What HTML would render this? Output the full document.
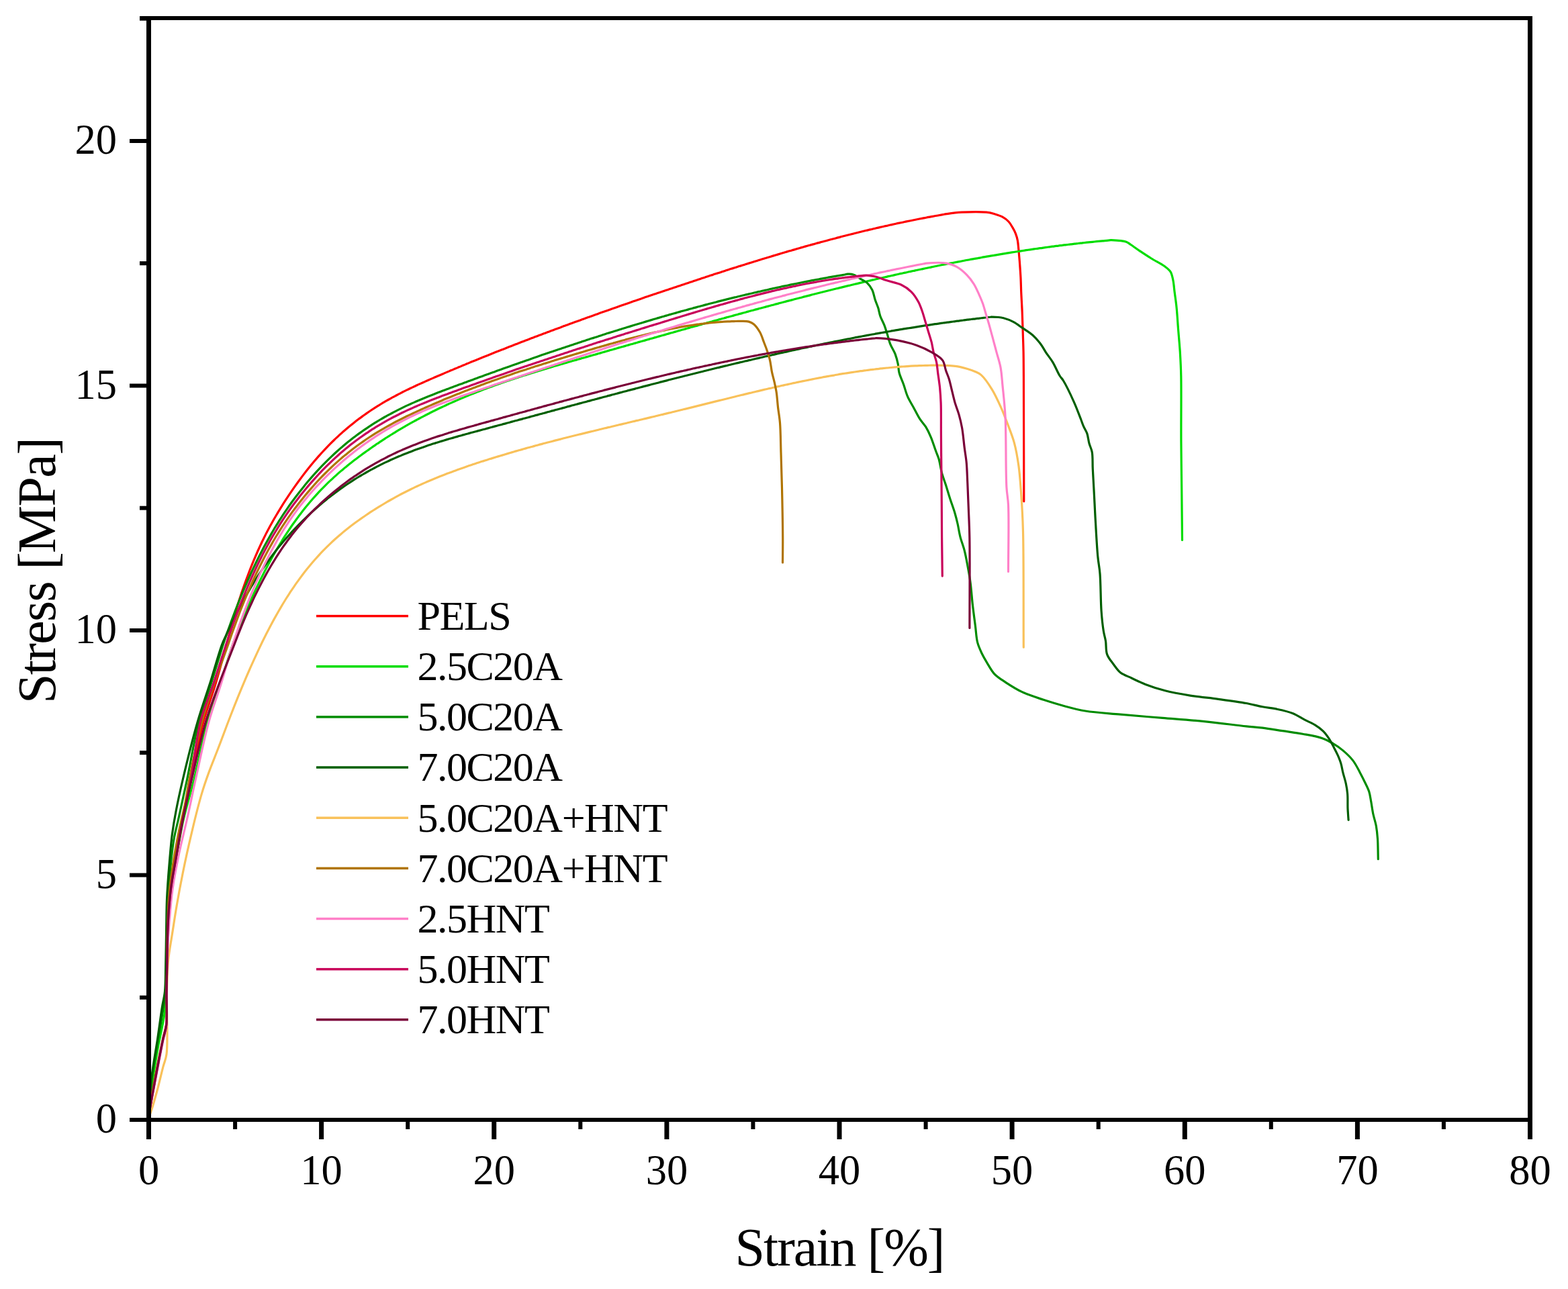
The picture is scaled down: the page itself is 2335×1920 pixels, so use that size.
<!DOCTYPE html>
<html><head><meta charset="utf-8"><title>Stress-Strain</title>
<style>html,body{margin:0;padding:0;background:#fff;width:2335px;height:1920px;overflow:hidden}svg{display:block}</style>
</head><body>
<svg width="2335" height="1920" viewBox="0 0 2335 1920" font-family="'Liberation Serif', 'Times New Roman', serif" fill="#000">
<g fill="none" stroke-width="3.2" stroke-linejoin="round" stroke-linecap="round"><path d="M221.5 1663.0C222.8 1654.9 223.8 1648.3 225.5 1638.8C227.9 1625.1 231.7 1604.6 234.7 1588.7C237.5 1574.2 240.5 1558.4 243.0 1547.0C244.7 1539.1 246.7 1535.1 247.7 1527.0C249.2 1514.7 247.8 1493.9 248.0 1480.0C248.1 1468.9 248.3 1462.3 248.5 1450.0C248.9 1430.6 249.0 1397.4 250.2 1374.7C251.2 1355.8 252.6 1339.2 254.6 1322.9C256.4 1308.3 258.9 1296.4 261.5 1281.4C264.6 1263.5 268.4 1242.5 271.9 1222.6C275.5 1202.1 278.9 1179.6 283.0 1160.0C286.7 1142.3 291.4 1125.2 295.0 1110.0C298.0 1097.3 299.4 1088.0 303.0 1075.0C307.6 1058.1 315.8 1036.4 321.4 1017.6C326.7 999.7 332.2 979.0 336.0 965.0C338.5 955.8 340.0 949.5 342.0 942.0C344.0 934.8 346.0 927.7 348.0 920.7C350.0 913.9 352.0 907.3 354.0 900.8C356.0 894.5 358.0 888.3 360.0 882.3C362.0 876.5 364.0 870.8 366.0 865.2C368.0 859.8 370.0 854.4 372.0 849.2C374.0 844.1 376.0 839.2 378.0 834.3C380.0 829.6 382.0 825.0 384.0 820.5C386.0 816.1 388.0 811.7 390.0 807.5C392.0 803.4 394.0 799.4 396.0 795.4C398.0 791.5 400.0 787.7 402.0 784.0C404.0 780.4 406.0 776.8 408.0 773.3C410.0 769.8 412.0 766.5 414.0 763.1C416.0 759.8 418.0 756.5 420.0 753.3C422.0 750.1 424.0 747.0 426.0 743.9C428.0 740.8 430.0 737.8 432.0 734.8C434.0 731.9 436.0 729.0 438.0 726.1C440.0 723.3 442.0 720.5 444.0 717.7C446.0 715.0 448.0 712.3 450.0 709.6C452.0 707.0 454.0 704.4 456.0 701.8C458.0 699.3 460.0 696.8 462.0 694.3C464.0 691.9 466.0 689.5 468.0 687.1C470.0 684.7 472.0 682.4 474.0 680.1C476.0 677.9 478.0 675.7 480.0 673.5C482.0 671.3 484.0 669.2 486.0 667.1C488.0 665.0 490.0 662.9 492.0 660.9C494.0 658.9 496.0 656.9 498.0 655.0C500.0 653.1 502.0 651.3 504.0 649.4C506.0 647.6 508.0 645.7 510.0 643.9C512.0 642.1 514.0 640.4 516.0 638.7C518.0 637.0 520.0 635.3 522.0 633.7C524.0 632.1 526.0 630.5 528.0 628.9C530.0 627.3 532.0 625.8 534.0 624.3C536.0 622.8 538.0 621.4 540.0 619.9C542.0 618.5 544.0 617.0 546.0 615.6C548.0 614.2 550.0 612.8 552.0 611.5C554.0 610.2 556.0 608.9 558.0 607.6C560.0 606.3 562.0 605.0 564.0 603.8C566.0 602.6 568.0 601.4 570.0 600.2C572.0 599.0 574.0 597.9 576.0 596.7C578.0 595.6 580.0 594.4 582.0 593.3C584.0 592.2 586.0 591.2 588.0 590.1C590.0 589.0 592.0 588.0 594.0 586.9C596.0 585.9 598.0 584.8 600.0 583.8C602.0 582.8 604.0 581.9 606.0 580.9C608.0 579.9 610.0 579.0 612.0 578.0C614.0 577.1 616.0 576.1 618.0 575.2C620.0 574.3 622.0 573.3 624.0 572.4C626.0 571.5 628.0 570.6 630.0 569.7C632.0 568.8 634.0 567.9 636.0 567.0C638.0 566.1 640.0 565.3 642.0 564.4C644.0 563.5 646.0 562.7 648.0 561.8C650.0 560.9 652.0 560.1 654.0 559.2C656.0 558.4 658.0 557.5 660.0 556.7C662.0 555.8 664.0 555.0 666.0 554.1C668.0 553.3 670.0 552.4 672.0 551.6C674.0 550.8 676.0 549.9 678.0 549.1C680.0 548.3 682.0 547.4 684.0 546.6C686.0 545.8 688.0 544.9 690.0 544.1C692.0 543.3 694.0 542.4 696.0 541.6C698.0 540.8 700.0 539.9 702.0 539.1C704.0 538.3 706.0 537.5 708.0 536.7C710.0 535.9 712.0 535.1 714.0 534.3C716.0 533.5 718.0 532.6 720.0 531.8C722.0 531.0 724.0 530.2 726.0 529.4C728.0 528.6 730.0 527.8 732.0 527.0C734.0 526.2 736.0 525.4 738.0 524.6C740.0 523.8 742.0 523.0 744.0 522.2C746.0 521.4 748.0 520.7 750.0 519.9C752.0 519.1 754.0 518.3 756.0 517.5C758.0 516.7 760.0 516.0 762.0 515.2C764.0 514.4 766.0 513.6 768.0 512.8C770.0 512.0 772.0 511.3 774.0 510.5C776.0 509.7 778.0 509.0 780.0 508.2C782.0 507.4 784.0 506.7 786.0 505.9C788.0 505.1 790.0 504.4 792.0 503.6C794.0 502.8 796.0 502.1 798.0 501.3C800.0 500.6 802.0 499.8 804.0 499.1C806.0 498.3 808.0 497.6 810.0 496.8C812.0 496.0 814.0 495.3 816.0 494.5C818.0 493.8 820.0 493.0 822.0 492.3C824.0 491.6 826.0 490.8 828.0 490.1C830.0 489.4 832.0 488.6 834.0 487.9C836.0 487.1 838.0 486.4 840.0 485.6C842.0 484.9 844.0 484.1 846.0 483.4C848.0 482.7 850.0 481.9 852.0 481.2C854.0 480.5 856.0 479.8 858.0 479.1C860.0 478.4 862.0 477.6 864.0 476.9C866.0 476.2 868.0 475.4 870.0 474.7C872.0 474.0 874.0 473.3 876.0 472.6C878.0 471.9 880.0 471.1 882.0 470.4C884.0 469.7 886.0 469.0 888.0 468.3C890.0 467.6 892.0 466.8 894.0 466.1C896.0 465.4 898.0 464.7 900.0 464.0C902.0 463.3 904.0 462.6 906.0 461.9C908.0 461.2 910.0 460.5 912.0 459.8C914.0 459.1 916.0 458.4 918.0 457.7C920.0 457.0 922.0 456.3 924.0 455.6C926.0 454.9 928.0 454.2 930.0 453.5C932.0 452.8 934.0 452.1 936.0 451.4C938.0 450.7 940.0 450.0 942.0 449.3C944.0 448.6 946.0 448.0 948.0 447.3C950.0 446.6 952.0 445.9 954.0 445.2C956.0 444.5 958.0 443.8 960.0 443.1C962.0 442.4 964.0 441.8 966.0 441.1C968.0 440.4 970.0 439.7 972.0 439.0C974.0 438.3 976.0 437.7 978.0 437.0C980.0 436.3 982.0 435.7 984.0 435.0C986.0 434.3 988.0 433.6 990.0 432.9C992.0 432.2 994.0 431.6 996.0 430.9C998.0 430.2 1000.0 429.6 1002.0 428.9C1004.0 428.2 1006.0 427.6 1008.0 426.9C1010.0 426.2 1012.0 425.6 1014.0 424.9C1016.0 424.2 1018.0 423.6 1020.0 422.9C1022.0 422.2 1024.0 421.6 1026.0 420.9C1028.0 420.2 1030.0 419.6 1032.0 418.9C1034.0 418.2 1036.0 417.6 1038.0 416.9C1040.0 416.2 1042.0 415.6 1044.0 414.9C1046.0 414.3 1048.0 413.6 1050.0 413.0C1052.0 412.3 1054.0 411.7 1056.0 411.0C1058.0 410.4 1060.0 409.7 1062.0 409.1C1064.0 408.4 1066.0 407.8 1068.0 407.1C1070.0 406.5 1072.0 405.8 1074.0 405.2C1076.0 404.6 1078.0 403.9 1080.0 403.3C1082.0 402.6 1084.0 402.0 1086.0 401.3C1088.0 400.7 1090.0 400.0 1092.0 399.4C1094.0 398.8 1096.0 398.1 1098.0 397.5C1100.0 396.9 1102.0 396.2 1104.0 395.6C1106.0 395.0 1108.0 394.3 1110.0 393.7C1112.0 393.1 1114.0 392.5 1116.0 391.9C1118.0 391.3 1120.0 390.6 1122.0 390.0C1124.0 389.4 1126.0 388.8 1128.0 388.2C1130.0 387.6 1132.0 386.9 1134.0 386.3C1136.0 385.7 1138.0 385.1 1140.0 384.5C1142.0 383.9 1144.0 383.3 1146.0 382.7C1148.0 382.1 1150.0 381.5 1152.0 380.9C1154.0 380.3 1156.0 379.7 1158.0 379.1C1160.0 378.5 1162.0 377.9 1164.0 377.3C1166.0 376.7 1168.0 376.1 1170.0 375.5C1172.0 374.9 1174.0 374.4 1176.0 373.8C1178.0 373.2 1180.0 372.7 1182.0 372.1C1184.0 371.5 1186.0 370.9 1188.0 370.3C1190.0 369.7 1192.0 369.2 1194.0 368.6C1196.0 368.0 1198.0 367.5 1200.0 366.9C1202.0 366.3 1204.0 365.8 1206.0 365.2C1208.0 364.7 1210.0 364.1 1212.0 363.6C1214.0 363.0 1216.0 362.5 1218.0 361.9C1220.0 361.4 1222.0 360.8 1224.0 360.3C1226.0 359.8 1228.0 359.2 1230.0 358.7C1232.0 358.1 1234.0 357.5 1236.0 357.0C1238.0 356.5 1240.0 356.0 1242.0 355.5C1244.0 355.0 1246.0 354.4 1248.0 353.9C1250.0 353.4 1252.0 352.8 1254.0 352.3C1256.0 351.8 1258.0 351.3 1260.0 350.8C1262.0 350.3 1264.0 349.8 1266.0 349.3C1268.0 348.8 1270.0 348.3 1272.0 347.8C1274.0 347.3 1276.0 346.8 1278.0 346.3C1280.0 345.8 1282.0 345.3 1284.0 344.8C1286.0 344.3 1288.0 343.8 1290.0 343.3C1292.0 342.8 1294.0 342.4 1296.0 341.9C1298.0 341.4 1300.0 341.0 1302.0 340.5C1304.0 340.0 1306.0 339.6 1308.0 339.1C1310.0 338.6 1312.0 338.2 1314.0 337.7C1316.0 337.3 1318.0 336.8 1320.0 336.4C1322.0 335.9 1324.0 335.5 1326.0 335.0C1328.0 334.6 1330.0 334.1 1332.0 333.7C1334.0 333.3 1336.0 332.8 1338.0 332.4C1340.0 332.0 1342.0 331.6 1344.0 331.2C1346.0 330.8 1348.0 330.3 1350.0 329.9C1352.0 329.5 1354.0 329.1 1356.0 328.7C1358.0 328.3 1360.0 327.9 1362.0 327.5C1364.0 327.1 1366.0 326.7 1368.0 326.3C1370.0 325.9 1372.0 325.5 1374.0 325.1C1376.0 324.7 1378.0 324.4 1380.0 324.0C1382.0 323.6 1384.0 323.3 1386.0 322.9C1388.0 322.5 1390.0 322.2 1392.0 321.8C1394.0 321.4 1396.0 321.1 1398.0 320.7C1400.0 320.3 1402.0 319.9 1404.0 319.6C1405.9 319.3 1407.1 319.0 1409.6 318.7C1414.6 318.0 1423.7 316.7 1432.1 316.2C1442.9 315.6 1460.1 315.3 1469.0 316.2C1474.1 316.7 1477.1 317.6 1481.0 318.7C1485.0 319.9 1489.3 321.2 1492.9 323.2C1496.3 325.1 1499.4 327.3 1501.9 330.0C1504.4 332.6 1506.1 335.9 1507.9 338.9C1509.6 341.8 1511.2 344.7 1512.4 347.9C1513.7 351.2 1514.7 354.6 1515.4 358.4C1516.2 362.6 1516.4 367.1 1516.9 371.9C1517.4 377.5 1517.9 383.6 1518.4 389.9C1518.9 397.0 1519.5 404.8 1519.9 412.3C1520.3 419.8 1520.4 426.8 1520.7 434.8C1521.1 444.1 1521.8 454.7 1522.2 464.7C1522.6 474.7 1522.9 484.7 1523.2 494.7C1523.5 504.7 1523.9 514.2 1524.1 524.6C1524.3 535.9 1524.3 543.6 1524.4 560.0C1524.6 597.8 1524.7 684.5 1524.8 746.8" stroke="#ff0000"/><path d="M221.5 1663.0C222.8 1649.3 223.6 1636.8 225.5 1622.0C227.8 1604.2 231.3 1582.9 234.7 1563.6C238.0 1544.5 243.3 1523.8 245.5 1506.9C247.2 1493.3 247.4 1483.2 248.0 1470.0C248.6 1454.6 248.4 1436.3 248.8 1420.0C249.2 1404.5 249.5 1390.3 250.5 1374.7C251.5 1358.0 252.9 1339.2 255.0 1322.9C256.9 1308.2 259.3 1296.1 262.0 1281.0C265.2 1263.0 268.6 1241.8 273.0 1222.0C277.6 1201.5 283.7 1182.3 289.2 1160.0C295.6 1133.9 301.5 1100.4 308.7 1075.0C314.7 1053.8 322.0 1036.6 328.3 1017.6C334.5 998.9 341.5 974.8 346.0 961.9C348.4 955.0 350.0 951.3 352.0 946.1C354.0 941.0 356.0 935.8 358.0 930.8C360.0 925.8 362.0 920.9 364.0 916.1C366.0 911.3 368.0 906.6 370.0 902.0C372.0 897.4 374.0 892.9 376.0 888.5C378.0 884.1 380.0 879.8 382.0 875.6C384.0 871.4 386.0 867.3 388.0 863.2C390.0 859.2 392.0 855.2 394.0 851.3C396.0 847.5 398.0 843.7 400.0 839.9C402.0 836.2 404.0 832.5 406.0 828.9C408.0 825.4 410.0 821.9 412.0 818.5C414.0 815.1 416.0 811.8 418.0 808.5C420.0 805.3 422.0 802.0 424.0 798.9C426.0 795.8 428.0 792.8 430.0 789.8C432.0 786.8 434.0 783.9 436.0 781.0C438.0 778.2 440.0 775.4 442.0 772.7C444.0 770.0 446.0 767.3 448.0 764.7C450.0 762.1 452.0 759.6 454.0 757.1C456.0 754.6 458.0 752.2 460.0 749.8C462.0 747.4 464.0 745.1 466.0 742.8C468.0 740.5 470.0 738.3 472.0 736.1C474.0 733.9 476.0 731.8 478.0 729.7C480.0 727.6 482.0 725.6 484.0 723.6C486.0 721.6 488.0 719.6 490.0 717.7C492.0 715.8 494.0 714.0 496.0 712.1C498.0 710.3 500.0 708.4 502.0 706.6C504.0 704.8 506.0 703.1 508.0 701.4C510.0 699.7 512.0 698.1 514.0 696.4C516.0 694.8 518.0 693.1 520.0 691.5C522.0 689.9 524.0 688.4 526.0 686.8C528.0 685.3 530.0 683.7 532.0 682.2C534.0 680.7 536.0 679.2 538.0 677.7C540.0 676.2 542.0 674.8 544.0 673.4C546.0 672.0 548.0 670.5 550.0 669.1C552.0 667.7 554.0 666.3 556.0 664.9C558.0 663.5 560.0 662.2 562.0 660.8C564.0 659.5 566.0 658.1 568.0 656.8C570.0 655.5 572.0 654.2 574.0 652.9C576.0 651.6 578.0 650.4 580.0 649.1C582.0 647.9 584.0 646.6 586.0 645.4C588.0 644.2 590.0 642.9 592.0 641.7C594.0 640.5 596.0 639.3 598.0 638.1C600.0 636.9 602.0 635.8 604.0 634.6C606.0 633.5 608.0 632.3 610.0 631.2C612.0 630.1 614.0 629.0 616.0 627.9C618.0 626.8 620.0 625.7 622.0 624.6C624.0 623.5 626.0 622.5 628.0 621.4C630.0 620.4 632.0 619.3 634.0 618.3C636.0 617.3 638.0 616.2 640.0 615.2C642.0 614.2 644.0 613.3 646.0 612.3C648.0 611.3 650.0 610.3 652.0 609.3C654.0 608.3 656.0 607.4 658.0 606.5C660.0 605.6 662.0 604.6 664.0 603.7C666.0 602.8 668.0 601.8 670.0 600.9C672.0 600.0 674.0 599.2 676.0 598.3C678.0 597.4 680.0 596.5 682.0 595.6C684.0 594.7 686.0 593.9 688.0 593.1C690.0 592.3 692.0 591.4 694.0 590.6C696.0 589.8 698.0 588.9 700.0 588.1C702.0 587.3 704.0 586.5 706.0 585.7C708.0 584.9 710.0 584.1 712.0 583.3C714.0 582.5 716.0 581.8 718.0 581.0C720.0 580.2 722.0 579.5 724.0 578.7C726.0 578.0 728.0 577.2 730.0 576.5C732.0 575.8 734.0 575.0 736.0 574.3C738.0 573.6 740.0 572.9 742.0 572.2C744.0 571.5 746.0 570.8 748.0 570.1C750.0 569.4 752.0 568.7 754.0 568.0C756.0 567.3 758.0 566.7 760.0 566.0C762.0 565.3 764.0 564.7 766.0 564.0C768.0 563.3 770.0 562.7 772.0 562.0C774.0 561.3 776.0 560.7 778.0 560.0C780.0 559.4 782.0 558.7 784.0 558.1C786.0 557.5 788.0 556.8 790.0 556.2C792.0 555.6 794.0 555.0 796.0 554.4C798.0 553.8 800.0 553.1 802.0 552.5C804.0 551.9 806.0 551.3 808.0 550.7C810.0 550.1 812.0 549.5 814.0 548.9C816.0 548.3 818.0 547.7 820.0 547.1C822.0 546.5 824.0 545.9 826.0 545.3C828.0 544.7 830.0 544.2 832.0 543.6C834.0 543.0 836.0 542.5 838.0 541.9C840.0 541.3 842.0 540.7 844.0 540.1C846.0 539.5 848.0 539.0 850.0 538.4C852.0 537.8 854.0 537.3 856.0 536.7C858.0 536.1 860.0 535.6 862.0 535.0C864.0 534.4 866.0 533.9 868.0 533.3C870.0 532.7 872.0 532.2 874.0 531.6C876.0 531.0 878.0 530.5 880.0 529.9C882.0 529.3 884.0 528.8 886.0 528.2C888.0 527.6 890.0 527.1 892.0 526.5C894.0 525.9 896.0 525.4 898.0 524.8C900.0 524.2 902.0 523.6 904.0 523.0C906.0 522.4 908.0 521.9 910.0 521.3C912.0 520.7 914.0 520.2 916.0 519.6C918.0 519.0 920.0 518.5 922.0 517.9C924.0 517.3 926.0 516.8 928.0 516.2C930.0 515.6 932.0 515.1 934.0 514.5C936.0 513.9 938.0 513.4 940.0 512.8C942.0 512.2 944.0 511.7 946.0 511.1C948.0 510.5 950.0 510.0 952.0 509.4C954.0 508.8 956.0 508.3 958.0 507.7C960.0 507.1 962.0 506.6 964.0 506.0C966.0 505.4 968.0 504.9 970.0 504.3C972.0 503.7 974.0 503.2 976.0 502.6C978.0 502.0 980.0 501.5 982.0 500.9C984.0 500.3 986.0 499.8 988.0 499.2C990.0 498.6 992.0 498.1 994.0 497.5C996.0 496.9 998.0 496.4 1000.0 495.8C1002.0 495.2 1004.0 494.7 1006.0 494.1C1008.0 493.5 1010.0 493.0 1012.0 492.4C1014.0 491.8 1016.0 491.3 1018.0 490.7C1020.0 490.1 1022.0 489.6 1024.0 489.0C1026.0 488.4 1028.0 487.9 1030.0 487.3C1032.0 486.8 1034.0 486.2 1036.0 485.7C1038.0 485.1 1040.0 484.6 1042.0 484.0C1044.0 483.4 1046.0 482.9 1048.0 482.3C1050.0 481.7 1052.0 481.2 1054.0 480.6C1056.0 480.1 1058.0 479.5 1060.0 479.0C1062.0 478.4 1064.0 477.9 1066.0 477.3C1068.0 476.7 1070.0 476.2 1072.0 475.6C1074.0 475.1 1076.0 474.5 1078.0 474.0C1080.0 473.4 1082.0 472.9 1084.0 472.3C1086.0 471.8 1088.0 471.2 1090.0 470.7C1092.0 470.1 1094.0 469.6 1096.0 469.0C1098.0 468.5 1100.0 467.9 1102.0 467.4C1104.0 466.9 1106.0 466.3 1108.0 465.8C1110.0 465.2 1112.0 464.7 1114.0 464.1C1116.0 463.6 1118.0 463.0 1120.0 462.5C1122.0 462.0 1124.0 461.4 1126.0 460.9C1128.0 460.4 1130.0 459.8 1132.0 459.3C1134.0 458.8 1136.0 458.2 1138.0 457.7C1140.0 457.2 1142.0 456.6 1144.0 456.1C1146.0 455.6 1148.0 455.0 1150.0 454.5C1152.0 454.0 1154.0 453.4 1156.0 452.9C1158.0 452.4 1160.0 451.8 1162.0 451.3C1164.0 450.8 1166.0 450.2 1168.0 449.7C1170.0 449.2 1172.0 448.6 1174.0 448.1C1176.0 447.6 1178.0 447.1 1180.0 446.6C1182.0 446.1 1184.0 445.5 1186.0 445.0C1188.0 444.5 1190.0 444.0 1192.0 443.5C1194.0 443.0 1196.0 442.4 1198.0 441.9C1200.0 441.4 1202.0 440.9 1204.0 440.4C1206.0 439.9 1208.0 439.3 1210.0 438.8C1212.0 438.3 1214.0 437.8 1216.0 437.3C1218.0 436.8 1220.0 436.3 1222.0 435.8C1224.0 435.3 1226.0 434.8 1228.0 434.3C1230.0 433.8 1232.0 433.3 1234.0 432.8C1236.0 432.3 1238.0 431.8 1240.0 431.3C1242.0 430.8 1244.0 430.3 1246.0 429.8C1248.0 429.3 1250.0 428.9 1252.0 428.4C1254.0 427.9 1256.0 427.4 1258.0 426.9C1260.0 426.4 1262.0 425.9 1264.0 425.4C1266.0 424.9 1268.0 424.5 1270.0 424.0C1272.0 423.5 1274.0 423.1 1276.0 422.6C1278.0 422.1 1280.0 421.6 1282.0 421.1C1284.0 420.6 1286.0 420.2 1288.0 419.7C1290.0 419.2 1292.0 418.8 1294.0 418.3C1296.0 417.8 1298.0 417.4 1300.0 416.9C1302.0 416.4 1304.0 416.0 1306.0 415.5C1308.0 415.0 1310.0 414.6 1312.0 414.1C1314.0 413.7 1316.0 413.2 1318.0 412.8C1320.0 412.3 1322.0 411.9 1324.0 411.4C1326.0 411.0 1328.0 410.5 1330.0 410.1C1332.0 409.6 1334.0 409.2 1336.0 408.7C1338.0 408.3 1340.0 407.8 1342.0 407.4C1344.0 407.0 1346.0 406.5 1348.0 406.1C1350.0 405.7 1352.0 405.2 1354.0 404.8C1356.0 404.4 1358.0 403.9 1360.0 403.5C1362.0 403.1 1364.0 402.6 1366.0 402.2C1368.0 401.8 1370.0 401.4 1372.0 401.0C1374.0 400.6 1376.0 400.1 1378.0 399.7C1380.0 399.3 1382.0 398.9 1384.0 398.5C1386.0 398.1 1388.0 397.6 1390.0 397.2C1392.0 396.8 1394.0 396.4 1396.0 396.0C1398.0 395.6 1400.0 395.2 1402.0 394.8C1404.0 394.4 1406.0 394.0 1408.0 393.6C1410.0 393.2 1412.0 392.8 1414.0 392.4C1416.0 392.0 1418.0 391.7 1420.0 391.3C1422.0 390.9 1424.0 390.5 1426.0 390.1C1428.0 389.7 1430.0 389.4 1432.0 389.0C1434.0 388.6 1436.0 388.2 1438.0 387.8C1440.0 387.4 1442.0 387.1 1444.0 386.7C1446.0 386.3 1448.0 386.0 1450.0 385.6C1452.0 385.3 1454.0 384.9 1456.0 384.6C1458.0 384.2 1460.0 383.9 1462.0 383.5C1464.0 383.1 1466.0 382.8 1468.0 382.4C1470.0 382.1 1472.0 381.7 1474.0 381.4C1476.0 381.1 1478.0 380.7 1480.0 380.4C1482.0 380.0 1484.0 379.6 1486.0 379.3C1488.0 379.0 1490.0 378.7 1492.0 378.4C1494.0 378.1 1496.0 377.7 1498.0 377.4C1500.0 377.1 1502.0 376.7 1504.0 376.4C1506.0 376.1 1508.0 375.8 1510.0 375.5C1512.0 375.2 1514.0 374.8 1516.0 374.5C1518.0 374.2 1520.0 373.9 1522.0 373.6C1524.0 373.3 1526.0 373.0 1528.0 372.7C1530.0 372.4 1532.0 372.1 1534.0 371.8C1536.0 371.5 1538.0 371.2 1540.0 370.9C1542.0 370.6 1544.0 370.4 1546.0 370.1C1548.0 369.8 1550.0 369.6 1552.0 369.3C1554.0 369.0 1556.0 368.7 1558.0 368.4C1560.0 368.1 1562.0 367.9 1564.0 367.6C1566.0 367.3 1568.0 367.1 1570.0 366.8C1572.0 366.6 1574.0 366.3 1576.0 366.1C1578.0 365.8 1580.0 365.6 1582.0 365.3C1584.0 365.1 1586.0 364.8 1588.0 364.6C1590.0 364.4 1592.0 364.1 1594.0 363.9C1596.0 363.7 1598.0 363.4 1600.0 363.2C1602.0 363.0 1604.0 362.7 1606.0 362.5C1608.0 362.3 1610.0 362.0 1612.0 361.8C1614.0 361.6 1616.0 361.4 1618.0 361.2C1620.0 361.0 1622.0 360.8 1624.0 360.6C1626.0 360.4 1628.0 360.2 1630.0 360.0C1632.0 359.8 1634.0 359.6 1636.0 359.4C1638.0 359.2 1640.0 359.0 1642.0 358.8C1644.0 358.6 1646.0 358.5 1648.0 358.3C1650.0 358.1 1653.0 357.8 1654.0 357.7C1654.3 357.7 1654.3 357.7 1654.7 357.7C1657.0 357.8 1672.0 358.4 1677.2 360.2C1680.3 361.3 1681.4 362.8 1684.0 364.5C1687.7 366.9 1692.3 370.4 1697.0 373.6C1702.4 377.2 1708.5 381.3 1714.6 385.0C1720.9 388.9 1729.0 392.7 1734.1 396.5C1737.9 399.3 1741.0 401.4 1743.1 404.8C1745.2 408.2 1745.8 412.3 1746.8 416.8C1748.0 422.1 1748.3 428.5 1749.1 434.8C1750.0 441.9 1751.2 449.3 1752.0 457.3C1753.0 466.5 1753.5 476.7 1754.3 487.2C1755.2 499.0 1756.5 512.3 1757.3 524.6C1758.0 536.6 1758.5 545.3 1758.8 560.0C1759.3 584.5 1758.7 627.9 1758.9 657.7C1759.1 682.8 1759.4 703.3 1759.7 727.1C1760.0 752.2 1760.2 778.7 1760.5 804.5" stroke="#00dd00"/><path d="M221.5 1663.0C222.8 1646.0 223.4 1629.6 225.5 1612.0C227.7 1593.0 231.7 1571.8 234.7 1553.0C237.5 1535.6 240.9 1516.8 243.0 1503.0C244.5 1493.2 245.7 1487.2 246.5 1478.0C247.4 1466.7 247.2 1454.1 247.5 1440.0C247.9 1422.3 247.9 1398.0 248.5 1380.0C249.0 1365.3 249.7 1354.1 250.5 1340.0C251.4 1324.3 252.5 1305.7 254.0 1290.0C255.4 1275.9 256.8 1262.8 259.0 1250.0C261.1 1238.1 263.9 1228.5 266.7 1215.7C270.3 1199.4 274.5 1180.5 278.8 1160.0C284.1 1134.7 289.5 1100.4 296.1 1075.0C301.6 1053.8 308.5 1036.8 314.5 1017.6C320.5 998.4 327.9 973.5 332.3 959.9C334.8 952.4 336.3 948.2 338.3 942.5C340.3 936.9 342.3 931.3 344.3 925.8C346.3 920.4 348.3 915.1 350.3 909.8C352.3 904.6 354.3 899.5 356.3 894.5C358.3 889.6 360.3 884.7 362.3 879.9C364.3 875.2 366.3 870.6 368.3 866.0C370.3 861.5 372.3 857.1 374.3 852.7C376.3 848.4 378.3 844.2 380.3 840.0C382.3 835.9 384.3 831.8 386.3 827.8C388.3 823.9 390.3 820.1 392.3 816.3C394.3 812.6 396.3 808.8 398.3 805.2C400.3 801.6 402.3 798.1 404.3 794.6C406.3 791.2 408.3 787.8 410.3 784.5C412.3 781.2 414.3 778.1 416.3 774.9C418.3 771.8 420.3 768.6 422.3 765.6C424.3 762.6 426.3 759.7 428.3 756.8C430.3 753.9 432.3 751.1 434.3 748.3C436.3 745.6 438.3 742.9 440.3 740.2C442.3 737.6 444.3 735.0 446.3 732.4C448.3 729.9 450.3 727.4 452.3 724.9C454.3 722.4 456.3 720.0 458.3 717.6C460.3 715.2 462.3 712.9 464.3 710.6C466.3 708.3 468.3 706.1 470.3 703.9C472.3 701.7 474.3 699.5 476.3 697.4C478.3 695.3 480.3 693.2 482.3 691.2C484.3 689.2 486.3 687.2 488.3 685.2C490.3 683.2 492.3 681.3 494.3 679.4C496.3 677.5 498.3 675.6 500.3 673.8C502.3 672.0 504.3 670.2 506.3 668.4C508.3 666.7 510.3 665.0 512.3 663.3C514.3 661.6 516.3 659.9 518.3 658.3C520.3 656.7 522.3 655.2 524.3 653.6C526.3 652.1 528.3 650.5 530.3 649.0C532.3 647.5 534.3 646.0 536.3 644.6C538.3 643.2 540.3 641.8 542.3 640.4C544.3 639.0 546.3 637.6 548.3 636.3C550.3 635.0 552.3 633.7 554.3 632.4C556.3 631.1 558.3 629.8 560.3 628.6C562.3 627.4 564.3 626.2 566.3 625.0C568.3 623.8 570.3 622.6 572.3 621.5C574.3 620.4 576.3 619.3 578.3 618.2C580.3 617.1 582.3 616.1 584.3 615.0C586.3 614.0 588.3 612.9 590.3 611.9C592.3 610.9 594.3 609.9 596.3 608.9C598.3 607.9 600.3 606.9 602.3 605.9C604.3 604.9 606.3 604.0 608.3 603.1C610.3 602.2 612.3 601.3 614.3 600.4C616.3 599.5 618.3 598.7 620.3 597.8C622.3 596.9 624.3 596.1 626.3 595.2C628.3 594.4 630.3 593.5 632.3 592.7C634.3 591.9 636.3 591.1 638.3 590.3C640.3 589.5 642.3 588.7 644.3 587.9C646.3 587.1 648.3 586.3 650.3 585.5C652.3 584.7 654.3 584.0 656.3 583.2C658.3 582.4 660.3 581.7 662.3 580.9C664.3 580.2 666.3 579.4 668.3 578.7C670.3 577.9 672.3 577.2 674.3 576.4C676.3 575.7 678.3 574.9 680.3 574.2C682.3 573.5 684.3 572.7 686.3 572.0C688.3 571.3 690.3 570.5 692.3 569.8C694.3 569.1 696.3 568.3 698.3 567.6C700.3 566.9 702.3 566.1 704.3 565.4C706.3 564.7 708.3 563.9 710.3 563.2C712.3 562.5 714.3 561.7 716.3 561.0C718.3 560.3 720.3 559.5 722.3 558.8C724.3 558.1 726.3 557.4 728.3 556.7C730.3 556.0 732.3 555.2 734.3 554.5C736.3 553.8 738.3 553.0 740.3 552.3C742.3 551.6 744.3 550.9 746.3 550.2C748.3 549.5 750.3 548.7 752.3 548.0C754.3 547.3 756.3 546.6 758.3 545.9C760.3 545.2 762.3 544.5 764.3 543.8C766.3 543.1 768.3 542.4 770.3 541.7C772.3 541.0 774.3 540.3 776.3 539.6C778.3 538.9 780.3 538.1 782.3 537.4C784.3 536.7 786.3 536.1 788.3 535.4C790.3 534.7 792.3 534.0 794.3 533.3C796.3 532.6 798.3 531.9 800.3 531.2C802.3 530.5 804.3 529.8 806.3 529.1C808.3 528.4 810.3 527.8 812.3 527.1C814.3 526.4 816.3 525.7 818.3 525.0C820.3 524.3 822.3 523.7 824.3 523.0C826.3 522.3 828.3 521.6 830.3 520.9C832.3 520.2 834.3 519.6 836.3 518.9C838.3 518.2 840.3 517.6 842.3 516.9C844.3 516.2 846.3 515.6 848.3 514.9C850.3 514.2 852.3 513.6 854.3 512.9C856.3 512.2 858.3 511.6 860.3 510.9C862.3 510.2 864.3 509.6 866.3 508.9C868.3 508.3 870.3 507.6 872.3 507.0C874.3 506.3 876.3 505.7 878.3 505.0C880.3 504.4 882.3 503.7 884.3 503.1C886.3 502.5 888.3 501.8 890.3 501.2C892.3 500.5 894.3 499.9 896.3 499.2C898.3 498.6 900.3 497.9 902.3 497.3C904.3 496.7 906.3 496.0 908.3 495.4C910.3 494.8 912.3 494.1 914.3 493.5C916.3 492.9 918.3 492.3 920.3 491.7C922.3 491.1 924.3 490.4 926.3 489.8C928.3 489.2 930.3 488.6 932.3 488.0C934.3 487.4 936.3 486.7 938.3 486.1C940.3 485.5 942.3 484.9 944.3 484.3C946.3 483.7 948.3 483.1 950.3 482.5C952.3 481.9 954.3 481.3 956.3 480.7C958.3 480.1 960.3 479.5 962.3 478.9C964.3 478.3 966.3 477.7 968.3 477.1C970.3 476.5 972.3 475.9 974.3 475.3C976.3 474.7 978.3 474.2 980.3 473.6C982.3 473.0 984.3 472.4 986.3 471.8C988.3 471.2 990.3 470.7 992.3 470.1C994.3 469.5 996.3 469.0 998.3 468.4C1000.3 467.8 1002.3 467.3 1004.3 466.7C1006.3 466.1 1008.3 465.6 1010.3 465.0C1012.3 464.4 1014.3 463.9 1016.3 463.3C1018.3 462.8 1020.3 462.2 1022.3 461.7C1024.3 461.1 1026.3 460.6 1028.3 460.0C1030.3 459.5 1032.3 458.9 1034.3 458.4C1036.3 457.9 1038.3 457.3 1040.3 456.8C1042.3 456.3 1044.3 455.7 1046.3 455.2C1048.3 454.7 1050.3 454.1 1052.3 453.6C1054.3 453.1 1056.3 452.5 1058.3 452.0C1060.3 451.5 1062.3 451.0 1064.3 450.5C1066.3 450.0 1068.3 449.4 1070.3 448.9C1072.3 448.4 1074.3 447.9 1076.3 447.4C1078.3 446.9 1080.3 446.4 1082.3 445.9C1084.3 445.4 1086.3 444.9 1088.3 444.4C1090.3 443.9 1092.3 443.4 1094.3 442.9C1096.3 442.4 1098.3 442.0 1100.3 441.5C1102.3 441.0 1104.3 440.5 1106.3 440.0C1108.3 439.5 1110.3 439.1 1112.3 438.6C1114.3 438.1 1116.3 437.7 1118.3 437.2C1120.3 436.7 1122.3 436.3 1124.3 435.8C1126.3 435.3 1128.3 434.9 1130.3 434.4C1132.3 433.9 1134.3 433.5 1136.3 433.0C1138.3 432.6 1140.3 432.1 1142.3 431.7C1144.3 431.2 1146.3 430.8 1148.3 430.3C1150.3 429.9 1152.3 429.4 1154.3 429.0C1156.3 428.6 1158.3 428.1 1160.3 427.7C1162.3 427.3 1164.3 426.8 1166.3 426.4C1168.3 426.0 1170.3 425.6 1172.3 425.2C1174.3 424.8 1176.3 424.3 1178.3 423.9C1180.3 423.5 1182.3 423.1 1184.3 422.7C1186.3 422.3 1188.3 421.9 1190.3 421.5C1192.3 421.1 1194.3 420.7 1196.3 420.3C1198.3 419.9 1200.3 419.5 1202.3 419.1C1204.3 418.7 1206.3 418.3 1208.3 417.9C1210.3 417.5 1212.3 417.2 1214.3 416.8C1216.3 416.4 1218.3 416.1 1220.3 415.7C1222.3 415.3 1224.3 415.0 1226.3 414.6C1228.3 414.2 1230.3 413.9 1232.3 413.5C1234.3 413.1 1236.3 412.8 1238.3 412.4C1240.3 412.1 1242.3 411.7 1244.3 411.4C1246.3 411.1 1248.3 410.7 1250.3 410.4C1252.3 410.1 1254.3 409.8 1256.3 409.4C1258.3 409.0 1260.3 408.4 1262.3 408.2C1264.2 408.0 1266.2 408.0 1268.0 408.3C1269.7 408.6 1271.3 409.2 1273.0 410.0C1274.8 410.9 1276.6 412.3 1278.5 413.5C1280.6 414.8 1282.8 416.2 1285.0 417.5C1287.1 418.8 1289.3 419.4 1291.3 421.3C1294.0 423.8 1296.8 427.8 1298.8 431.8C1301.0 436.2 1301.7 442.1 1303.3 446.8C1304.7 451.0 1306.5 454.8 1307.8 458.8C1309.0 462.7 1309.4 466.7 1310.8 470.7C1312.3 475.1 1315.0 479.7 1316.8 484.2C1318.5 488.7 1319.8 493.1 1321.3 497.7C1322.8 502.6 1323.9 507.8 1325.8 512.7C1327.8 517.8 1331.3 522.6 1333.2 527.6C1335.0 532.4 1336.2 537.3 1337.2 542.0C1338.1 546.4 1337.8 550.4 1339.0 555.0C1340.4 560.6 1343.6 567.0 1345.7 573.0C1347.8 579.0 1349.2 585.2 1351.7 590.9C1354.2 596.6 1357.7 601.9 1360.7 607.4C1363.7 612.9 1366.5 618.9 1369.7 623.9C1372.5 628.3 1376.0 631.6 1378.7 635.9C1381.5 640.5 1383.8 645.3 1386.1 650.8C1388.8 657.1 1391.4 665.8 1393.6 671.8C1395.3 676.4 1396.7 679.2 1398.1 683.8C1399.8 689.8 1400.8 698.0 1402.6 704.7C1404.3 711.0 1406.6 716.6 1408.6 722.7C1410.6 729.1 1412.4 735.5 1414.6 742.2C1416.9 749.4 1420.1 757.9 1422.1 764.7C1423.7 770.3 1424.8 774.6 1426.0 780.0C1427.4 786.0 1428.2 792.8 1429.9 799.3C1431.6 806.2 1434.5 813.0 1436.3 820.3C1438.3 828.0 1439.7 836.3 1441.2 844.4C1442.7 852.4 1444.1 859.9 1445.2 868.6C1446.5 878.5 1447.2 890.1 1448.4 900.8C1449.6 911.5 1451.2 923.0 1452.5 933.0C1453.6 941.6 1453.8 950.1 1455.7 957.2C1457.3 963.2 1459.7 968.2 1462.1 973.3C1464.5 978.3 1467.2 982.9 1470.2 987.8C1473.4 993.1 1476.4 999.1 1480.8 1003.8C1485.4 1008.7 1491.2 1012.1 1497.5 1016.3C1504.9 1021.2 1513.5 1026.7 1522.5 1030.9C1532.2 1035.4 1543.3 1038.8 1553.8 1042.3C1564.2 1045.7 1574.6 1048.9 1585.1 1051.7C1595.5 1054.5 1604.5 1057.0 1616.3 1059.0C1631.4 1061.5 1650.2 1062.5 1668.4 1064.2C1688.3 1066.0 1710.1 1067.7 1731.0 1069.4C1751.8 1071.1 1772.7 1072.5 1793.5 1074.6C1814.4 1076.7 1840.1 1080.2 1856.0 1081.9C1865.9 1082.9 1871.6 1083.2 1880.0 1084.2C1889.5 1085.4 1900.0 1087.2 1910.0 1088.7C1920.0 1090.2 1930.0 1091.3 1939.9 1093.2C1949.9 1095.1 1961.8 1097.0 1969.9 1099.9C1975.9 1102.0 1980.0 1104.5 1984.9 1107.4C1990.0 1110.4 1995.1 1113.8 1999.9 1117.9C2005.1 1122.3 2010.6 1127.4 2014.8 1132.9C2019.0 1138.4 2022.2 1145.1 2025.3 1150.9C2028.1 1156.1 2030.5 1160.9 2032.8 1165.8C2035.0 1170.4 2037.3 1174.6 2038.8 1179.3C2040.3 1184.1 2040.8 1189.1 2041.8 1194.3C2042.8 1200.0 2043.6 1206.3 2044.8 1212.3C2046.1 1218.3 2048.2 1224.1 2049.3 1230.3C2050.4 1236.6 2051.0 1242.5 2051.5 1249.7C2052.1 1258.6 2052.0 1269.7 2052.3 1279.7" stroke="#008c00"/><path d="M221.5 1663.0C222.8 1644.3 223.4 1625.9 225.5 1607.0C227.7 1587.3 231.9 1565.8 234.7 1547.0C237.2 1530.4 239.3 1513.1 241.4 1500.2C242.9 1491.0 244.6 1485.5 245.5 1476.8C246.6 1466.0 246.4 1453.8 246.7 1440.0C247.1 1422.4 247.4 1398.0 247.7 1380.0C248.0 1365.3 247.9 1354.2 248.5 1340.0C249.2 1323.9 250.6 1304.9 252.0 1288.3C253.3 1272.8 254.5 1257.5 256.3 1243.3C258.0 1230.5 259.8 1219.8 262.3 1207.0C265.1 1192.3 268.3 1177.9 272.5 1160.0C278.2 1135.8 286.9 1100.5 294.3 1075.0C300.4 1053.9 306.7 1036.8 312.8 1017.6C318.8 998.4 325.9 972.5 330.6 960.0C332.9 953.8 334.6 950.9 336.6 946.4C338.6 942.0 340.6 937.7 342.6 933.5C344.6 929.3 346.6 925.2 348.6 921.1C350.6 917.1 352.6 913.1 354.6 909.2C356.6 905.4 358.6 901.6 360.6 897.9C362.6 894.2 364.6 890.6 366.6 887.0C368.6 883.5 370.6 880.0 372.6 876.6C374.6 873.2 376.6 870.0 378.6 866.7C380.6 863.5 382.6 860.3 384.6 857.2C386.6 854.1 388.6 851.2 390.6 848.2C392.6 845.3 394.6 842.4 396.6 839.5C398.6 836.7 400.6 833.9 402.6 831.2C404.6 828.5 406.6 825.8 408.6 823.2C410.6 820.6 412.6 818.1 414.6 815.6C416.6 813.1 418.6 810.7 420.6 808.3C422.6 805.9 424.6 803.6 426.6 801.3C428.6 799.0 430.6 796.8 432.6 794.6C434.6 792.4 436.6 790.3 438.6 788.2C440.6 786.1 442.6 784.0 444.6 781.9C446.6 779.9 448.6 777.9 450.6 775.9C452.6 773.9 454.6 772.0 456.6 770.1C458.6 768.2 460.6 766.3 462.6 764.4C464.6 762.6 466.6 760.8 468.6 759.0C470.6 757.2 472.6 755.4 474.6 753.7C476.6 752.0 478.6 750.3 480.6 748.6C482.6 746.9 484.6 745.3 486.6 743.7C488.6 742.1 490.6 740.6 492.6 739.0C494.6 737.5 496.6 735.9 498.6 734.4C500.6 732.9 502.6 731.4 504.6 729.9C506.6 728.5 508.6 727.1 510.6 725.7C512.6 724.3 514.6 722.9 516.6 721.5C518.6 720.2 520.6 718.9 522.6 717.6C524.6 716.3 526.6 715.0 528.6 713.7C530.6 712.4 532.6 711.2 534.6 710.0C536.6 708.8 538.6 707.7 540.6 706.5C542.6 705.3 544.6 704.1 546.6 703.0C548.6 701.9 550.6 700.8 552.6 699.7C554.6 698.6 556.6 697.6 558.6 696.5C560.6 695.5 562.6 694.4 564.6 693.4C566.6 692.4 568.6 691.4 570.6 690.4C572.6 689.4 574.6 688.5 576.6 687.6C578.6 686.7 580.6 685.7 582.6 684.8C584.6 683.9 586.6 683.0 588.6 682.1C590.6 681.2 592.6 680.4 594.6 679.6C596.6 678.8 598.6 677.9 600.6 677.1C602.6 676.3 604.6 675.5 606.6 674.7C608.6 673.9 610.6 673.2 612.6 672.4C614.6 671.6 616.6 670.8 618.6 670.1C620.6 669.4 622.6 668.7 624.6 668.0C626.6 667.3 628.6 666.6 630.6 665.9C632.6 665.2 634.6 664.5 636.6 663.8C638.6 663.1 640.6 662.5 642.6 661.8C644.6 661.2 646.6 660.5 648.6 659.9C650.6 659.3 652.6 658.6 654.6 658.0C656.6 657.4 658.6 656.8 660.6 656.2C662.6 655.6 664.6 655.0 666.6 654.4C668.6 653.8 670.6 653.3 672.6 652.7C674.6 652.1 676.6 651.6 678.6 651.0C680.6 650.4 682.6 649.9 684.6 649.3C686.6 648.7 688.6 648.2 690.6 647.6C692.6 647.1 694.6 646.5 696.6 646.0C698.6 645.4 700.6 644.9 702.6 644.3C704.6 643.8 706.6 643.2 708.6 642.7C710.6 642.2 712.6 641.6 714.6 641.1C716.6 640.6 718.6 640.0 720.6 639.5C722.6 639.0 724.6 638.4 726.6 637.9C728.6 637.3 730.6 636.8 732.6 636.2C734.6 635.7 736.6 635.1 738.6 634.6C740.6 634.1 742.6 633.5 744.6 633.0C746.6 632.5 748.6 631.9 750.6 631.4C752.6 630.9 754.6 630.3 756.6 629.8C758.6 629.2 760.6 628.7 762.6 628.1C764.6 627.6 766.6 627.0 768.6 626.5C770.6 626.0 772.6 625.4 774.6 624.9C776.6 624.4 778.6 623.8 780.6 623.3C782.6 622.8 784.6 622.2 786.6 621.7C788.6 621.1 790.6 620.6 792.6 620.0C794.6 619.5 796.6 618.9 798.6 618.4C800.6 617.9 802.6 617.3 804.6 616.8C806.6 616.3 808.6 615.7 810.6 615.2C812.6 614.6 814.6 614.1 816.6 613.5C818.6 613.0 820.6 612.4 822.6 611.9C824.6 611.4 826.6 610.8 828.6 610.3C830.6 609.8 832.6 609.2 834.6 608.7C836.6 608.2 838.6 607.6 840.6 607.1C842.6 606.5 844.6 606.0 846.6 605.4C848.6 604.9 850.6 604.3 852.6 603.8C854.6 603.3 856.6 602.7 858.6 602.2C860.6 601.7 862.6 601.1 864.6 600.6C866.6 600.1 868.6 599.5 870.6 599.0C872.6 598.5 874.6 597.9 876.6 597.4C878.6 596.9 880.6 596.3 882.6 595.8C884.6 595.3 886.6 594.7 888.6 594.2C890.6 593.7 892.6 593.1 894.6 592.6C896.6 592.1 898.6 591.5 900.6 591.0C902.6 590.5 904.6 589.9 906.6 589.4C908.6 588.9 910.6 588.3 912.6 587.8C914.6 587.3 916.6 586.7 918.6 586.2C920.6 585.7 922.6 585.1 924.6 584.6C926.6 584.1 928.6 583.5 930.6 583.0C932.6 582.5 934.6 581.9 936.6 581.4C938.6 580.9 940.6 580.4 942.6 579.9C944.6 579.4 946.6 578.8 948.6 578.3C950.6 577.8 952.6 577.2 954.6 576.7C956.6 576.2 958.6 575.6 960.6 575.1C962.6 574.6 964.6 574.1 966.6 573.6C968.6 573.1 970.6 572.5 972.6 572.0C974.6 571.5 976.6 571.0 978.6 570.5C980.6 570.0 982.6 569.4 984.6 568.9C986.6 568.4 988.6 567.9 990.6 567.4C992.6 566.9 994.6 566.3 996.6 565.8C998.6 565.3 1000.6 564.8 1002.6 564.3C1004.6 563.8 1006.6 563.3 1008.6 562.8C1010.6 562.3 1012.6 561.8 1014.6 561.3C1016.6 560.8 1018.6 560.2 1020.6 559.7C1022.6 559.2 1024.6 558.7 1026.6 558.2C1028.6 557.7 1030.6 557.2 1032.6 556.7C1034.6 556.2 1036.6 555.7 1038.6 555.2C1040.6 554.7 1042.6 554.2 1044.6 553.7C1046.6 553.2 1048.6 552.8 1050.6 552.3C1052.6 551.8 1054.6 551.3 1056.6 550.8C1058.6 550.3 1060.6 549.8 1062.6 549.3C1064.6 548.8 1066.6 548.3 1068.6 547.8C1070.6 547.3 1072.6 546.9 1074.6 546.4C1076.6 545.9 1078.6 545.4 1080.6 544.9C1082.6 544.4 1084.6 544.0 1086.6 543.5C1088.6 543.0 1090.6 542.5 1092.6 542.0C1094.6 541.5 1096.6 541.1 1098.6 540.6C1100.6 540.1 1102.6 539.7 1104.6 539.2C1106.6 538.7 1108.6 538.3 1110.6 537.8C1112.6 537.3 1114.6 536.9 1116.6 536.4C1118.6 535.9 1120.6 535.5 1122.6 535.0C1124.6 534.5 1126.6 534.1 1128.6 533.6C1130.6 533.1 1132.6 532.7 1134.6 532.2C1136.6 531.7 1138.6 531.3 1140.6 530.8C1142.6 530.3 1144.6 529.9 1146.6 529.4C1148.6 529.0 1150.6 528.5 1152.6 528.1C1154.6 527.6 1156.6 527.2 1158.6 526.7C1160.6 526.3 1162.6 525.8 1164.6 525.4C1166.6 525.0 1168.6 524.5 1170.6 524.1C1172.6 523.6 1174.6 523.2 1176.6 522.7C1178.6 522.3 1180.6 521.8 1182.6 521.4C1184.6 521.0 1186.6 520.5 1188.6 520.1C1190.6 519.7 1192.6 519.2 1194.6 518.8C1196.6 518.4 1198.6 518.0 1200.6 517.6C1202.6 517.2 1204.6 516.7 1206.6 516.3C1208.6 515.9 1210.6 515.4 1212.6 515.0C1214.6 514.6 1216.6 514.2 1218.6 513.8C1220.6 513.4 1222.6 512.9 1224.6 512.5C1226.6 512.1 1228.6 511.7 1230.6 511.3C1232.6 510.9 1234.6 510.5 1236.6 510.1C1238.6 509.7 1240.6 509.3 1242.6 508.9C1244.6 508.5 1246.6 508.1 1248.6 507.7C1250.6 507.3 1252.6 506.9 1254.6 506.5C1256.6 506.1 1258.6 505.7 1260.6 505.3C1262.6 504.9 1264.6 504.6 1266.6 504.2C1268.6 503.8 1270.6 503.4 1272.6 503.0C1274.6 502.6 1276.6 502.3 1278.6 501.9C1280.6 501.5 1282.6 501.2 1284.6 500.8C1286.6 500.4 1288.6 500.0 1290.6 499.6C1292.6 499.2 1294.6 498.9 1296.6 498.5C1298.6 498.2 1300.6 497.8 1302.6 497.5C1304.6 497.1 1306.6 496.8 1308.6 496.4C1310.6 496.0 1312.6 495.7 1314.6 495.3C1316.6 495.0 1318.6 494.6 1320.6 494.3C1322.6 493.9 1324.6 493.6 1326.6 493.2C1328.6 492.9 1330.6 492.5 1332.6 492.2C1334.6 491.9 1336.6 491.5 1338.6 491.2C1340.6 490.9 1342.6 490.5 1344.6 490.2C1346.6 489.9 1348.6 489.5 1350.6 489.2C1352.6 488.9 1354.6 488.6 1356.6 488.3C1358.6 488.0 1360.6 487.6 1362.6 487.3C1364.6 487.0 1366.6 486.7 1368.6 486.4C1370.6 486.1 1372.6 485.7 1374.6 485.4C1376.6 485.1 1378.6 484.8 1380.6 484.5C1382.6 484.2 1384.6 483.9 1386.6 483.6C1388.6 483.3 1390.6 483.0 1392.6 482.7C1394.6 482.4 1396.6 482.2 1398.6 481.9C1400.6 481.6 1402.6 481.3 1404.6 481.0C1406.6 480.7 1408.6 480.5 1410.6 480.2C1412.6 479.9 1414.6 479.7 1416.6 479.4C1418.6 479.1 1420.6 478.9 1422.6 478.6C1424.6 478.3 1426.6 478.1 1428.6 477.8C1430.6 477.5 1432.6 477.3 1434.6 477.0C1436.6 476.7 1438.6 476.5 1440.6 476.2C1442.6 476.0 1444.6 475.7 1446.6 475.5C1448.6 475.3 1450.6 475.0 1452.6 474.8C1454.6 474.6 1456.6 474.3 1458.6 474.1C1460.6 473.9 1462.6 473.6 1464.6 473.4C1466.6 473.2 1468.8 472.9 1470.6 472.7C1472.2 472.5 1473.0 472.2 1475.0 472.2C1479.2 472.1 1488.4 472.3 1494.4 473.7C1499.8 475.0 1504.7 477.2 1509.4 479.7C1514.2 482.2 1518.3 485.6 1522.9 488.7C1527.8 492.0 1533.4 495.2 1537.9 499.2C1542.4 503.2 1546.5 508.2 1549.9 512.7C1552.9 516.7 1554.6 520.4 1557.3 524.6C1560.4 529.4 1564.5 534.1 1567.8 539.6C1571.5 545.8 1575.3 555.2 1578.3 560.0C1580.1 562.9 1581.3 563.4 1583.2 566.5C1587.2 573.0 1594.5 588.1 1599.1 598.3C1603.2 607.4 1607.1 618.0 1609.7 624.8C1611.3 629.0 1612.0 631.5 1613.5 634.9C1615.0 638.5 1617.4 641.6 1618.8 645.6C1620.4 650.1 1620.7 655.8 1622.0 660.5C1623.2 665.0 1625.3 668.2 1626.2 673.3C1627.5 680.3 1626.8 689.5 1627.3 698.9C1627.9 710.4 1628.7 724.2 1629.4 737.3C1630.1 751.1 1630.7 765.2 1631.6 779.9C1632.5 795.7 1633.5 815.3 1634.8 829.0C1635.7 838.9 1637.2 844.3 1638.0 854.5C1639.2 869.4 1639.0 894.4 1640.1 910.0C1640.9 921.5 1642.0 931.6 1643.3 939.8C1644.2 945.7 1645.6 949.4 1646.5 954.8C1647.5 960.9 1646.5 968.7 1648.6 974.6C1650.5 980.1 1654.6 984.6 1658.0 989.2C1661.3 993.6 1664.1 998.3 1668.4 1001.7C1673.0 1005.3 1679.2 1007.2 1685.1 1010.0C1691.6 1013.1 1698.3 1016.5 1705.9 1019.4C1714.7 1022.8 1724.7 1026.1 1735.1 1028.8C1746.7 1031.8 1759.7 1034.0 1772.6 1036.1C1786.1 1038.3 1800.4 1039.4 1814.3 1041.3C1828.2 1043.2 1844.0 1045.3 1856.0 1047.5C1865.1 1049.2 1872.1 1051.2 1880.0 1052.7C1887.6 1054.2 1895.0 1054.9 1902.5 1056.5C1910.0 1058.1 1918.0 1059.8 1924.9 1062.5C1931.4 1065.1 1937.2 1069.2 1942.9 1072.2C1948.1 1074.9 1953.3 1076.9 1957.9 1079.7C1962.3 1082.4 1966.4 1085.3 1969.9 1088.7C1973.4 1092.0 1976.2 1095.9 1978.9 1099.9C1981.7 1104.1 1984.1 1109.0 1986.4 1113.4C1988.6 1117.5 1990.6 1121.4 1992.4 1125.4C1994.1 1129.4 1995.7 1133.2 1996.9 1137.4C1998.2 1141.7 1998.7 1146.2 1999.9 1150.9C2001.2 1156.1 2003.2 1161.9 2004.3 1167.3C2005.4 1172.4 2006.1 1176.8 2006.6 1182.3C2007.2 1189.0 2006.7 1197.9 2007.0 1204.8C2007.3 1210.7 2007.7 1215.8 2008.1 1221.3" stroke="#005f00"/><path d="M221.5 1665.0C222.8 1661.3 224.0 1658.5 225.5 1653.8C228.0 1645.9 231.8 1632.7 234.7 1622.0C237.6 1611.1 240.5 1598.2 243.0 1588.7C244.8 1581.7 246.8 1578.9 248.0 1570.3C250.5 1551.7 247.8 1505.7 248.4 1480.0C248.9 1460.9 249.1 1445.5 250.6 1430.0C251.9 1416.4 254.3 1405.1 256.3 1392.0C258.5 1378.1 260.6 1363.6 263.2 1348.8C265.9 1333.0 268.8 1317.3 272.3 1300.0C276.3 1280.1 281.5 1256.7 286.4 1236.3C290.9 1217.4 295.9 1197.3 300.5 1181.9C303.9 1170.3 306.8 1162.1 310.6 1151.6C314.8 1140.0 320.2 1127.0 324.7 1115.3C328.9 1104.3 333.5 1092.0 336.8 1083.2C339.1 1077.0 340.8 1072.7 342.8 1067.5C344.8 1062.4 346.8 1057.3 348.8 1052.2C350.8 1047.2 352.8 1042.2 354.8 1037.2C356.8 1032.3 358.8 1027.4 360.8 1022.6C362.8 1017.8 364.8 1013.1 366.8 1008.4C368.8 1003.8 370.8 999.2 372.8 994.6C374.8 990.1 376.8 985.7 378.8 981.3C380.8 976.9 382.8 972.6 384.8 968.3C386.8 964.1 388.8 959.9 390.8 955.8C392.8 951.8 394.8 947.8 396.8 943.8C398.8 939.9 400.8 936.0 402.8 932.2C404.8 928.5 406.8 924.7 408.8 921.1C410.8 917.5 412.8 914.0 414.8 910.5C416.8 907.1 418.8 903.7 420.8 900.3C422.8 897.0 424.8 893.7 426.8 890.5C428.8 887.3 430.8 884.3 432.8 881.2C434.8 878.2 436.8 875.2 438.8 872.3C440.8 869.4 442.8 866.7 444.8 863.9C446.8 861.2 448.8 858.5 450.8 855.8C452.8 853.2 454.8 850.6 456.8 848.1C458.8 845.6 460.8 843.1 462.8 840.7C464.8 838.3 466.8 836.0 468.8 833.7C470.8 831.5 472.8 829.3 474.8 827.1C476.8 824.9 478.8 822.8 480.8 820.7C482.8 818.6 484.8 816.6 486.8 814.6C488.8 812.6 490.8 810.7 492.8 808.8C494.8 806.9 496.8 805.1 498.8 803.3C500.8 801.5 502.8 799.7 504.8 798.0C506.8 796.3 508.8 794.6 510.8 792.9C512.8 791.2 514.8 789.6 516.8 788.0C518.8 786.4 520.8 784.8 522.8 783.3C524.8 781.8 526.8 780.3 528.8 778.8C530.8 777.3 532.8 775.9 534.8 774.5C536.8 773.1 538.8 771.7 540.8 770.3C542.8 768.9 544.8 767.6 546.8 766.2C548.8 764.9 550.8 763.5 552.8 762.2C554.8 760.9 556.8 759.6 558.8 758.3C560.8 757.0 562.8 755.8 564.8 754.6C566.8 753.4 568.8 752.2 570.8 751.0C572.8 749.8 574.8 748.6 576.8 747.4C578.8 746.2 580.8 745.1 582.8 744.0C584.8 742.9 586.8 741.8 588.8 740.7C590.8 739.6 592.8 738.5 594.8 737.4C596.8 736.3 598.8 735.3 600.8 734.3C602.8 733.3 604.8 732.3 606.8 731.3C608.8 730.3 610.8 729.3 612.8 728.3C614.8 727.3 616.8 726.4 618.8 725.4C620.8 724.5 622.8 723.5 624.8 722.6C626.8 721.7 628.8 720.8 630.8 719.9C632.8 719.0 634.8 718.2 636.8 717.3C638.8 716.4 640.8 715.6 642.8 714.7C644.8 713.9 646.8 713.0 648.8 712.2C650.8 711.4 652.8 710.6 654.8 709.8C656.8 709.0 658.8 708.2 660.8 707.4C662.8 706.6 664.8 705.9 666.8 705.1C668.8 704.4 670.8 703.6 672.8 702.9C674.8 702.2 676.8 701.4 678.8 700.7C680.8 700.0 682.8 699.2 684.8 698.5C686.8 697.8 688.8 697.1 690.8 696.4C692.8 695.7 694.8 695.0 696.8 694.3C698.8 693.6 700.8 693.0 702.8 692.3C704.8 691.6 706.8 691.0 708.8 690.3C710.8 689.6 712.8 689.0 714.8 688.3C716.8 687.7 718.8 687.0 720.8 686.4C722.8 685.8 724.8 685.1 726.8 684.5C728.8 683.9 730.8 683.2 732.8 682.6C734.8 682.0 736.8 681.4 738.8 680.8C740.8 680.2 742.8 679.6 744.8 679.0C746.8 678.4 748.8 677.8 750.8 677.2C752.8 676.6 754.8 676.0 756.8 675.4C758.8 674.8 760.8 674.2 762.8 673.6C764.8 673.0 766.8 672.5 768.8 671.9C770.8 671.3 772.8 670.8 774.8 670.2C776.8 669.6 778.8 669.1 780.8 668.5C782.8 667.9 784.8 667.4 786.8 666.8C788.8 666.3 790.8 665.7 792.8 665.2C794.8 664.6 796.8 664.1 798.8 663.5C800.8 663.0 802.8 662.4 804.8 661.9C806.8 661.4 808.8 660.8 810.8 660.3C812.8 659.8 814.8 659.2 816.8 658.7C818.8 658.2 820.8 657.7 822.8 657.2C824.8 656.7 826.8 656.1 828.8 655.6C830.8 655.1 832.8 654.6 834.8 654.1C836.8 653.6 838.8 653.0 840.8 652.5C842.8 652.0 844.8 651.5 846.8 651.0C848.8 650.5 850.8 650.0 852.8 649.5C854.8 649.0 856.8 648.5 858.8 648.0C860.8 647.5 862.8 647.1 864.8 646.6C866.8 646.1 868.8 645.6 870.8 645.1C872.8 644.6 874.8 644.1 876.8 643.6C878.8 643.1 880.8 642.7 882.8 642.2C884.8 641.7 886.8 641.2 888.8 640.7C890.8 640.2 892.8 639.8 894.8 639.3C896.8 638.8 898.8 638.3 900.8 637.8C902.8 637.3 904.8 636.9 906.8 636.4C908.8 635.9 910.8 635.5 912.8 635.0C914.8 634.5 916.8 634.0 918.8 633.5C920.8 633.0 922.8 632.6 924.8 632.1C926.8 631.6 928.8 631.2 930.8 630.7C932.8 630.2 934.8 629.8 936.8 629.3C938.8 628.8 940.8 628.3 942.8 627.8C944.8 627.3 946.8 626.9 948.8 626.4C950.8 625.9 952.8 625.5 954.8 625.0C956.8 624.5 958.8 624.1 960.8 623.6C962.8 623.1 964.8 622.6 966.8 622.1C968.8 621.6 970.8 621.2 972.8 620.7C974.8 620.2 976.8 619.8 978.8 619.3C980.8 618.8 982.8 618.3 984.8 617.8C986.8 617.3 988.8 616.9 990.8 616.4C992.8 615.9 994.8 615.4 996.8 614.9C998.8 614.4 1000.8 614.0 1002.8 613.5C1004.8 613.0 1006.8 612.5 1008.8 612.0C1010.8 611.5 1012.8 611.0 1014.8 610.5C1016.8 610.0 1018.8 609.6 1020.8 609.1C1022.8 608.6 1024.8 608.1 1026.8 607.6C1028.8 607.1 1030.8 606.6 1032.8 606.1C1034.8 605.6 1036.8 605.1 1038.8 604.6C1040.8 604.1 1042.8 603.6 1044.8 603.1C1046.8 602.6 1048.8 602.1 1050.8 601.6C1052.8 601.1 1054.8 600.6 1056.8 600.1C1058.8 599.6 1060.8 599.1 1062.8 598.6C1064.8 598.1 1066.8 597.6 1068.8 597.1C1070.8 596.6 1072.8 596.2 1074.8 595.7C1076.8 595.2 1078.8 594.7 1080.8 594.2C1082.8 593.7 1084.8 593.2 1086.8 592.7C1088.8 592.2 1090.8 591.7 1092.8 591.2C1094.8 590.7 1096.8 590.3 1098.8 589.8C1100.8 589.3 1102.8 588.8 1104.8 588.3C1106.8 587.8 1108.8 587.4 1110.8 586.9C1112.8 586.4 1114.8 585.9 1116.8 585.4C1118.8 584.9 1120.8 584.5 1122.8 584.0C1124.8 583.5 1126.8 583.1 1128.8 582.6C1130.8 582.1 1132.8 581.6 1134.8 581.1C1136.8 580.6 1138.8 580.2 1140.8 579.7C1142.8 579.3 1144.8 578.8 1146.8 578.4C1148.8 577.9 1150.8 577.5 1152.8 577.0C1154.8 576.5 1156.8 576.1 1158.8 575.6C1160.8 575.2 1162.8 574.7 1164.8 574.3C1166.8 573.9 1168.8 573.4 1170.8 573.0C1172.8 572.6 1174.8 572.1 1176.8 571.7C1178.8 571.3 1180.8 570.8 1182.8 570.4C1184.8 570.0 1186.8 569.5 1188.8 569.1C1190.8 568.7 1192.8 568.3 1194.8 567.9C1196.8 567.5 1198.8 567.1 1200.8 566.7C1202.8 566.3 1204.8 565.9 1206.8 565.5C1208.8 565.1 1210.8 564.7 1212.8 564.3C1214.8 563.9 1216.8 563.5 1218.8 563.1C1220.8 562.7 1222.8 562.4 1224.8 562.0C1226.8 561.6 1228.8 561.3 1230.8 560.9C1232.8 560.5 1234.8 560.2 1236.8 559.8C1238.8 559.5 1240.8 559.1 1242.8 558.8C1244.8 558.4 1246.8 558.1 1248.8 557.7C1250.8 557.4 1252.8 557.0 1254.8 556.7C1256.8 556.4 1258.8 556.1 1260.8 555.8C1262.8 555.5 1264.8 555.2 1266.8 554.9C1268.8 554.6 1270.8 554.3 1272.8 554.0C1274.8 553.7 1276.8 553.4 1278.8 553.1C1280.8 552.8 1282.8 552.6 1284.8 552.3C1286.8 552.0 1288.8 551.8 1290.8 551.5C1292.8 551.2 1294.8 551.0 1296.8 550.7C1298.8 550.5 1300.8 550.2 1302.8 550.0C1304.8 549.8 1306.8 549.5 1308.8 549.3C1310.8 549.1 1312.8 548.8 1314.8 548.6C1316.8 548.4 1318.8 548.2 1320.8 548.0C1322.8 547.8 1324.8 547.7 1326.8 547.5C1328.8 547.3 1330.8 547.1 1332.8 546.9C1334.8 546.7 1336.8 546.6 1338.8 546.4C1340.8 546.3 1342.8 546.1 1344.8 546.0C1346.8 545.9 1348.8 545.7 1350.8 545.6C1352.8 545.5 1354.8 545.3 1356.8 545.2C1358.8 545.1 1360.8 545.0 1362.8 544.9C1364.8 544.8 1366.8 544.8 1368.8 544.7C1370.8 544.6 1372.8 544.6 1374.8 544.5C1376.8 544.4 1378.8 544.4 1380.8 544.3C1382.8 544.3 1384.8 544.2 1386.8 544.2C1388.8 544.2 1391.4 544.1 1392.8 544.1C1393.6 544.1 1393.6 544.1 1394.6 544.1C1398.5 544.2 1416.3 544.4 1424.6 545.6C1430.6 546.5 1435.2 547.9 1440.0 549.3C1444.3 550.6 1448.3 551.9 1452.0 553.5C1455.3 555.0 1458.0 555.8 1461.2 558.6C1466.2 563.0 1472.3 572.1 1477.1 579.8C1482.1 587.9 1486.4 597.4 1490.4 606.3C1494.3 615.1 1497.7 623.9 1501.0 632.8C1504.3 641.6 1507.7 649.8 1510.3 659.3C1513.2 669.9 1515.2 681.5 1516.9 693.8C1518.9 707.8 1519.8 723.2 1520.9 738.8C1522.1 755.8 1522.9 769.1 1523.5 791.9C1524.6 832.9 1524.0 906.8 1524.3 964.2" stroke="#f9c15a"/><path d="M221.5 1663.0C222.8 1653.7 223.8 1645.7 225.5 1635.0C227.8 1620.7 231.6 1600.7 234.7 1585.0C237.5 1570.9 240.6 1556.0 243.0 1545.0C244.7 1537.2 246.7 1533.1 247.7 1525.0C249.1 1513.1 247.9 1494.6 248.0 1480.0C248.1 1466.3 248.3 1454.7 248.5 1440.0C248.8 1422.0 248.9 1399.1 249.5 1380.0C250.1 1362.6 250.5 1346.2 252.0 1330.0C253.4 1314.6 255.7 1300.0 258.0 1285.0C260.3 1270.0 263.0 1255.0 266.0 1240.0C269.0 1225.0 273.2 1209.1 276.0 1195.0C278.5 1182.6 279.4 1174.2 282.2 1160.0C286.6 1137.8 293.9 1100.4 300.7 1075.0C306.4 1053.8 312.6 1036.7 319.1 1017.6C325.6 998.4 335.0 973.7 339.8 960.0C342.4 952.5 343.8 948.2 345.8 942.5C347.8 936.9 349.8 931.4 351.8 925.9C353.8 920.5 355.8 915.2 357.8 910.0C359.8 904.9 361.8 899.9 363.8 895.0C365.8 890.1 367.8 885.3 369.8 880.6C371.8 876.0 373.8 871.5 375.8 867.0C377.8 862.6 379.8 858.3 381.8 854.0C383.8 849.8 385.8 845.7 387.8 841.7C389.8 837.7 391.8 833.8 393.8 829.9C395.8 826.1 397.8 822.4 399.8 818.7C401.8 815.1 403.8 811.6 405.8 808.1C407.8 804.7 409.8 801.3 411.8 798.0C413.8 794.7 415.8 791.5 417.8 788.3C419.8 785.2 421.8 782.1 423.8 779.1C425.8 776.1 427.8 773.2 429.8 770.3C431.8 767.5 433.8 764.7 435.8 761.9C437.8 759.2 439.8 756.5 441.8 753.9C443.8 751.3 445.8 748.7 447.8 746.2C449.8 743.7 451.8 741.2 453.8 738.7C455.8 736.3 457.8 733.9 459.8 731.6C461.8 729.3 463.8 727.0 465.8 724.7C467.8 722.4 469.8 720.2 471.8 718.0C473.8 715.8 475.8 713.7 477.8 711.6C479.8 709.5 481.8 707.5 483.8 705.5C485.8 703.5 487.8 701.5 489.8 699.6C491.8 697.7 493.8 695.8 495.8 693.9C497.8 692.0 499.8 690.2 501.8 688.4C503.8 686.6 505.8 684.8 507.8 683.1C509.8 681.4 511.8 679.8 513.8 678.1C515.8 676.5 517.8 674.8 519.8 673.2C521.8 671.6 523.8 670.0 525.8 668.5C527.8 667.0 529.8 665.5 531.8 664.0C533.8 662.5 535.8 661.1 537.8 659.7C539.8 658.3 541.8 656.9 543.8 655.5C545.8 654.1 547.8 652.8 549.8 651.5C551.8 650.2 553.8 648.9 555.8 647.6C557.8 646.3 559.8 645.1 561.8 643.9C563.8 642.7 565.8 641.5 567.8 640.3C569.8 639.1 571.8 637.9 573.8 636.8C575.8 635.7 577.8 634.6 579.8 633.5C581.8 632.4 583.8 631.3 585.8 630.2C587.8 629.1 589.8 628.0 591.8 627.0C593.8 626.0 595.8 625.0 597.8 624.0C599.8 623.0 601.8 622.0 603.8 621.0C605.8 620.0 607.8 619.1 609.8 618.1C611.8 617.1 613.8 616.1 615.8 615.2C617.8 614.3 619.8 613.4 621.8 612.5C623.8 611.6 625.8 610.6 627.8 609.7C629.8 608.8 631.8 607.9 633.8 607.0C635.8 606.1 637.8 605.3 639.8 604.4C641.8 603.5 643.8 602.7 645.8 601.8C647.8 600.9 649.8 600.1 651.8 599.2C653.8 598.4 655.8 597.5 657.8 596.7C659.8 595.8 661.8 594.9 663.8 594.1C665.8 593.3 667.8 592.5 669.8 591.7C671.8 590.9 673.8 590.0 675.8 589.2C677.8 588.4 679.8 587.6 681.8 586.8C683.8 586.0 685.8 585.3 687.8 584.5C689.8 583.7 691.8 582.9 693.8 582.1C695.8 581.3 697.8 580.6 699.8 579.8C701.8 579.0 703.8 578.3 705.8 577.5C707.8 576.8 709.8 576.0 711.8 575.3C713.8 574.5 715.8 573.8 717.8 573.0C719.8 572.3 721.8 571.5 723.8 570.8C725.8 570.1 727.8 569.4 729.8 568.7C731.8 568.0 733.8 567.2 735.8 566.5C737.8 565.8 739.8 565.1 741.8 564.4C743.8 563.7 745.8 563.0 747.8 562.3C749.8 561.6 751.8 560.9 753.8 560.2C755.8 559.5 757.8 558.9 759.8 558.2C761.8 557.5 763.8 556.8 765.8 556.1C767.8 555.4 769.8 554.8 771.8 554.1C773.8 553.4 775.8 552.8 777.8 552.1C779.8 551.5 781.8 550.8 783.8 550.2C785.8 549.5 787.8 548.9 789.8 548.2C791.8 547.6 793.8 546.9 795.8 546.3C797.8 545.7 799.8 545.0 801.8 544.4C803.8 543.8 805.8 543.1 807.8 542.5C809.8 541.9 811.8 541.2 813.8 540.6C815.8 540.0 817.8 539.3 819.8 538.7C821.8 538.1 823.8 537.4 825.8 536.8C827.8 536.2 829.8 535.6 831.8 535.0C833.8 534.4 835.8 533.8 837.8 533.2C839.8 532.6 841.8 532.0 843.8 531.4C845.8 530.8 847.8 530.2 849.8 529.6C851.8 529.0 853.8 528.4 855.8 527.8C857.8 527.2 859.8 526.6 861.8 526.0C863.8 525.4 865.8 524.8 867.8 524.2C869.8 523.6 871.8 523.0 873.8 522.4C875.8 521.8 877.8 521.3 879.8 520.7C881.8 520.1 883.8 519.5 885.8 518.9C887.8 518.3 889.8 517.8 891.8 517.2C893.8 516.6 895.8 516.1 897.8 515.5C899.8 514.9 901.8 514.3 903.8 513.7C905.8 513.1 907.8 512.6 909.8 512.0C911.8 511.5 913.8 510.9 915.8 510.4C917.8 509.8 919.8 509.3 921.8 508.7C923.8 508.1 925.8 507.6 927.8 507.0C929.8 506.5 931.8 505.9 933.8 505.4C935.8 504.9 937.8 504.3 939.8 503.8C941.8 503.3 943.8 502.8 945.8 502.3C947.8 501.8 949.8 501.2 951.8 500.7C953.8 500.2 955.8 499.7 957.8 499.2C959.8 498.7 961.8 498.3 963.8 497.8C965.8 497.3 967.8 496.8 969.8 496.3C971.8 495.8 973.8 495.4 975.8 494.9C977.8 494.5 979.8 494.0 981.8 493.6C983.8 493.2 985.8 492.7 987.8 492.3C989.8 491.9 991.8 491.4 993.8 491.0C995.8 490.6 997.8 490.2 999.8 489.8C1001.8 489.4 1003.8 489.0 1005.8 488.6C1007.8 488.2 1009.8 487.9 1011.8 487.5C1013.8 487.1 1015.8 486.8 1017.8 486.4C1019.8 486.1 1021.8 485.7 1023.8 485.4C1025.8 485.1 1027.8 484.8 1029.8 484.5C1031.8 484.2 1033.8 483.9 1035.8 483.6C1037.8 483.3 1039.8 483.1 1041.8 482.8C1043.8 482.5 1045.8 482.3 1047.8 482.0C1049.8 481.8 1051.8 481.5 1053.8 481.3C1055.8 481.1 1057.8 480.9 1059.8 480.7C1061.8 480.5 1063.8 480.3 1065.8 480.1C1067.8 479.9 1069.8 479.8 1071.8 479.7C1073.8 479.5 1075.8 479.3 1077.8 479.2C1079.8 479.1 1081.8 479.0 1083.8 478.9C1085.8 478.8 1087.8 478.8 1089.8 478.7C1091.8 478.6 1093.8 478.6 1095.8 478.5C1097.8 478.5 1100.2 478.4 1101.8 478.4C1102.9 478.4 1103.4 478.4 1104.6 478.4C1107.0 478.5 1112.0 478.2 1115.1 479.1C1117.9 479.9 1120.2 480.9 1122.6 482.9C1125.8 485.6 1129.1 490.4 1131.6 494.8C1134.2 499.4 1135.8 505.1 1137.6 509.8C1139.2 514.0 1140.7 517.6 1142.1 521.8C1143.7 526.5 1145.4 531.5 1146.6 536.8C1147.9 542.5 1148.4 549.0 1149.6 554.7C1150.7 559.9 1152.2 564.7 1153.3 569.7C1154.4 574.7 1155.5 579.2 1156.3 584.7C1157.3 591.4 1157.7 599.7 1158.6 607.2C1159.5 614.8 1160.8 621.0 1161.5 629.9C1162.5 642.3 1162.5 659.3 1163.0 674.8C1163.5 691.6 1164.1 708.3 1164.5 727.2C1165.0 749.5 1165.6 779.6 1165.7 800.0C1165.8 814.7 1165.6 825.3 1165.5 838.0" stroke="#b07400"/><path d="M221.5 1663.0C222.8 1655.3 223.8 1649.1 225.5 1640.0C227.9 1626.9 231.7 1607.5 234.7 1592.0C237.5 1577.5 240.5 1561.4 243.0 1550.0C244.7 1542.1 246.7 1538.2 247.7 1530.0C249.3 1517.2 248.1 1496.7 248.3 1480.0C248.5 1463.3 248.4 1447.1 249.0 1430.0C249.6 1412.0 250.6 1392.8 252.0 1374.7C253.4 1357.1 254.8 1340.1 257.2 1322.9C259.7 1305.6 263.1 1288.3 266.7 1271.0C270.3 1253.6 274.8 1236.9 278.8 1219.0C283.1 1200.0 286.7 1181.4 291.5 1160.0C297.2 1134.2 304.0 1100.4 311.0 1075.0C316.8 1053.9 323.7 1036.4 329.5 1017.6C335.0 999.7 340.9 977.9 345.0 965.0C347.4 957.4 349.0 952.9 351.0 946.9C353.0 941.1 355.0 935.3 357.0 929.6C359.0 924.1 361.0 918.6 363.0 913.2C365.0 907.9 367.0 902.7 369.0 897.6C371.0 892.6 373.0 887.7 375.0 882.8C377.0 878.0 379.0 873.3 381.0 868.7C383.0 864.2 385.0 859.7 387.0 855.3C389.0 851.0 391.0 846.7 393.0 842.5C395.0 838.4 397.0 834.4 399.0 830.5C401.0 826.6 403.0 822.8 405.0 819.0C407.0 815.3 409.0 811.7 411.0 808.1C413.0 804.6 415.0 801.2 417.0 797.8C419.0 794.5 421.0 791.2 423.0 788.0C425.0 784.9 427.0 781.8 429.0 778.8C431.0 775.8 433.0 772.8 435.0 769.9C437.0 767.1 439.0 764.3 441.0 761.6C443.0 758.9 445.0 756.2 447.0 753.6C449.0 751.0 451.0 748.5 453.0 746.0C455.0 743.6 457.0 741.2 459.0 738.8C461.0 736.4 463.0 734.1 465.0 731.8C467.0 729.6 469.0 727.4 471.0 725.2C473.0 723.0 475.0 720.9 477.0 718.8C479.0 716.7 481.0 714.7 483.0 712.7C485.0 710.7 487.0 708.7 489.0 706.7C491.0 704.7 493.0 702.8 495.0 700.9C497.0 699.0 499.0 697.2 501.0 695.4C503.0 693.6 505.0 691.8 507.0 690.0C509.0 688.2 511.0 686.5 513.0 684.8C515.0 683.1 517.0 681.5 519.0 679.8C521.0 678.2 523.0 676.5 525.0 674.9C527.0 673.3 529.0 671.8 531.0 670.3C533.0 668.8 535.0 667.2 537.0 665.7C539.0 664.2 541.0 662.8 543.0 661.4C545.0 660.0 547.0 658.5 549.0 657.1C551.0 655.7 553.0 654.4 555.0 653.1C557.0 651.8 559.0 650.4 561.0 649.1C563.0 647.8 565.0 646.5 567.0 645.3C569.0 644.1 571.0 642.9 573.0 641.7C575.0 640.5 577.0 639.3 579.0 638.1C581.0 636.9 583.0 635.8 585.0 634.7C587.0 633.6 589.0 632.5 591.0 631.4C593.0 630.3 595.0 629.3 597.0 628.2C599.0 627.2 601.0 626.1 603.0 625.1C605.0 624.1 607.0 623.1 609.0 622.1C611.0 621.1 613.0 620.2 615.0 619.2C617.0 618.3 619.0 617.3 621.0 616.4C623.0 615.5 625.0 614.6 627.0 613.7C629.0 612.8 631.0 612.0 633.0 611.1C635.0 610.2 637.0 609.4 639.0 608.5C641.0 607.7 643.0 606.8 645.0 606.0C647.0 605.2 649.0 604.4 651.0 603.6C653.0 602.8 655.0 602.0 657.0 601.2C659.0 600.4 661.0 599.7 663.0 598.9C665.0 598.2 667.0 597.4 669.0 596.7C671.0 595.9 673.0 595.1 675.0 594.4C677.0 593.7 679.0 593.0 681.0 592.3C683.0 591.6 685.0 590.8 687.0 590.1C689.0 589.4 691.0 588.7 693.0 588.0C695.0 587.3 697.0 586.6 699.0 585.9C701.0 585.2 703.0 584.6 705.0 583.9C707.0 583.2 709.0 582.5 711.0 581.8C713.0 581.1 715.0 580.5 717.0 579.8C719.0 579.1 721.0 578.4 723.0 577.7C725.0 577.0 727.0 576.4 729.0 575.7C731.0 575.0 733.0 574.3 735.0 573.6C737.0 572.9 739.0 572.3 741.0 571.6C743.0 570.9 745.0 570.3 747.0 569.6C749.0 568.9 751.0 568.3 753.0 567.6C755.0 566.9 757.0 566.2 759.0 565.5C761.0 564.8 763.0 564.2 765.0 563.5C767.0 562.8 769.0 562.2 771.0 561.5C773.0 560.8 775.0 560.2 777.0 559.5C779.0 558.8 781.0 558.2 783.0 557.5C785.0 556.8 787.0 556.1 789.0 555.4C791.0 554.7 793.0 554.1 795.0 553.4C797.0 552.7 799.0 552.1 801.0 551.4C803.0 550.7 805.0 550.1 807.0 549.4C809.0 548.7 811.0 548.1 813.0 547.4C815.0 546.8 817.0 546.1 819.0 545.5C821.0 544.8 823.0 544.2 825.0 543.5C827.0 542.8 829.0 542.2 831.0 541.5C833.0 540.8 835.0 540.2 837.0 539.5C839.0 538.8 841.0 538.2 843.0 537.5C845.0 536.9 847.0 536.2 849.0 535.6C851.0 534.9 853.0 534.3 855.0 533.6C857.0 532.9 859.0 532.3 861.0 531.6C863.0 531.0 865.0 530.3 867.0 529.7C869.0 529.0 871.0 528.4 873.0 527.7C875.0 527.1 877.0 526.4 879.0 525.8C881.0 525.1 883.0 524.5 885.0 523.8C887.0 523.2 889.0 522.5 891.0 521.9C893.0 521.3 895.0 520.6 897.0 520.0C899.0 519.3 901.0 518.7 903.0 518.0C905.0 517.4 907.0 516.7 909.0 516.1C911.0 515.5 913.0 514.8 915.0 514.2C917.0 513.6 919.0 512.9 921.0 512.3C923.0 511.7 925.0 511.0 927.0 510.4C929.0 509.8 931.0 509.1 933.0 508.5C935.0 507.9 937.0 507.2 939.0 506.6C941.0 506.0 943.0 505.3 945.0 504.7C947.0 504.1 949.0 503.4 951.0 502.8C953.0 502.2 955.0 501.6 957.0 501.0C959.0 500.4 961.0 499.7 963.0 499.1C965.0 498.5 967.0 497.9 969.0 497.3C971.0 496.7 973.0 496.0 975.0 495.4C977.0 494.8 979.0 494.2 981.0 493.6C983.0 493.0 985.0 492.3 987.0 491.7C989.0 491.1 991.0 490.5 993.0 489.9C995.0 489.3 997.0 488.7 999.0 488.1C1001.0 487.5 1003.0 486.8 1005.0 486.2C1007.0 485.6 1009.0 485.0 1011.0 484.4C1013.0 483.8 1015.0 483.2 1017.0 482.6C1019.0 482.0 1021.0 481.4 1023.0 480.8C1025.0 480.2 1027.0 479.7 1029.0 479.1C1031.0 478.5 1033.0 477.9 1035.0 477.3C1037.0 476.7 1039.0 476.1 1041.0 475.5C1043.0 474.9 1045.0 474.3 1047.0 473.7C1049.0 473.1 1051.0 472.6 1053.0 472.0C1055.0 471.4 1057.0 470.8 1059.0 470.2C1061.0 469.6 1063.0 469.1 1065.0 468.5C1067.0 467.9 1069.0 467.4 1071.0 466.8C1073.0 466.2 1075.0 465.7 1077.0 465.1C1079.0 464.5 1081.0 463.9 1083.0 463.3C1085.0 462.7 1087.0 462.2 1089.0 461.6C1091.0 461.1 1093.0 460.5 1095.0 460.0C1097.0 459.4 1099.0 458.9 1101.0 458.3C1103.0 457.7 1105.0 457.2 1107.0 456.6C1109.0 456.0 1111.0 455.5 1113.0 454.9C1115.0 454.4 1117.0 453.8 1119.0 453.3C1121.0 452.7 1123.0 452.2 1125.0 451.6C1127.0 451.1 1129.0 450.5 1131.0 450.0C1133.0 449.5 1135.0 448.9 1137.0 448.4C1139.0 447.8 1141.0 447.3 1143.0 446.7C1145.0 446.2 1147.0 445.6 1149.0 445.1C1151.0 444.6 1153.0 444.0 1155.0 443.5C1157.0 443.0 1159.0 442.5 1161.0 442.0C1163.0 441.5 1165.0 440.9 1167.0 440.4C1169.0 439.9 1171.0 439.3 1173.0 438.8C1175.0 438.3 1177.0 437.8 1179.0 437.3C1181.0 436.8 1183.0 436.2 1185.0 435.7C1187.0 435.2 1189.0 434.7 1191.0 434.2C1193.0 433.7 1195.0 433.2 1197.0 432.7C1199.0 432.2 1201.0 431.6 1203.0 431.1C1205.0 430.6 1207.0 430.1 1209.0 429.6C1211.0 429.1 1213.0 428.7 1215.0 428.2C1217.0 427.7 1219.0 427.2 1221.0 426.7C1223.0 426.2 1225.0 425.7 1227.0 425.2C1229.0 424.7 1231.0 424.3 1233.0 423.8C1235.0 423.3 1237.0 422.8 1239.0 422.3C1241.0 421.8 1243.0 421.4 1245.0 420.9C1247.0 420.4 1249.0 420.0 1251.0 419.5C1253.0 419.0 1255.0 418.6 1257.0 418.1C1259.0 417.6 1261.0 417.2 1263.0 416.7C1265.0 416.2 1267.0 415.8 1269.0 415.3C1271.0 414.8 1273.0 414.4 1275.0 413.9C1277.0 413.4 1279.0 413.0 1281.0 412.5C1283.0 412.1 1285.0 411.6 1287.0 411.2C1289.0 410.8 1291.0 410.3 1293.0 409.9C1295.0 409.4 1297.0 409.0 1299.0 408.5C1301.0 408.1 1303.0 407.6 1305.0 407.2C1307.0 406.8 1309.0 406.3 1311.0 405.9C1313.0 405.5 1315.0 405.1 1317.0 404.7C1319.0 404.3 1321.0 403.8 1323.0 403.4C1325.0 403.0 1327.0 402.5 1329.0 402.1C1331.0 401.7 1333.0 401.3 1335.0 400.9C1337.0 400.5 1339.0 400.1 1341.0 399.7C1343.0 399.3 1345.0 398.9 1347.0 398.5C1349.0 398.1 1351.0 397.7 1353.0 397.3C1355.0 396.9 1357.0 396.5 1359.0 396.1C1361.0 395.7 1363.0 395.3 1365.0 394.9C1367.0 394.5 1369.0 394.1 1371.0 393.7C1373.0 393.3 1375.4 392.9 1377.0 392.6C1378.1 392.4 1378.3 392.2 1379.7 392.1C1384.3 391.7 1401.4 390.7 1409.6 392.1C1415.6 393.1 1419.8 394.7 1424.6 397.3C1429.9 400.2 1435.3 404.9 1439.6 409.3C1443.7 413.4 1447.1 418.0 1450.1 422.8C1453.1 427.5 1455.3 432.8 1457.6 437.8C1459.8 442.6 1461.8 447.2 1463.5 452.0C1465.2 456.9 1466.5 462.0 1468.0 467.0C1469.5 472.0 1471.0 476.6 1472.5 482.0C1474.3 488.2 1476.1 495.3 1478.0 502.2C1480.0 509.5 1482.0 517.1 1484.0 524.6C1486.0 532.1 1488.5 539.2 1490.0 547.1C1491.6 555.7 1492.0 564.2 1493.0 574.5C1494.3 587.6 1496.0 601.3 1497.0 619.5C1498.5 647.4 1497.5 702.0 1498.9 725.6C1499.6 737.4 1500.9 740.4 1501.5 752.1C1502.6 774.6 1501.5 818.4 1501.5 851.5" stroke="#ff80c8"/><path d="M221.5 1663.0C222.8 1654.9 223.8 1648.3 225.5 1638.8C227.9 1625.1 231.7 1604.6 234.7 1588.7C237.5 1574.2 240.5 1558.4 243.0 1547.0C244.7 1539.1 246.7 1535.1 247.7 1527.0C249.2 1514.7 247.8 1493.9 248.0 1480.0C248.1 1468.9 248.3 1462.3 248.5 1450.0C248.9 1430.6 249.0 1397.4 250.2 1374.7C251.2 1355.8 252.6 1339.2 254.6 1322.9C256.4 1308.3 258.9 1296.4 261.5 1281.4C264.6 1263.5 268.1 1242.5 271.9 1222.6C275.8 1202.0 280.4 1182.5 284.5 1160.0C289.3 1133.9 292.1 1100.3 298.4 1075.0C303.7 1053.7 311.7 1036.6 318.0 1017.6C324.2 998.9 331.6 975.4 336.0 962.0C338.5 954.3 340.0 949.9 342.0 944.0C344.0 938.2 346.0 932.5 348.0 926.9C350.0 921.4 352.0 916.0 354.0 910.6C356.0 905.4 358.0 900.2 360.0 895.1C362.0 890.1 364.0 885.2 366.0 880.4C368.0 875.7 370.0 871.0 372.0 866.4C374.0 861.9 376.0 857.4 378.0 853.0C380.0 848.7 382.0 844.5 384.0 840.3C386.0 836.2 388.0 832.2 390.0 828.2C392.0 824.3 394.0 820.6 396.0 816.8C398.0 813.1 400.0 809.4 402.0 805.8C404.0 802.3 406.0 798.9 408.0 795.5C410.0 792.2 412.0 788.9 414.0 785.6C416.0 782.4 418.0 779.2 420.0 776.1C422.0 773.0 424.0 770.1 426.0 767.1C428.0 764.2 430.0 761.3 432.0 758.5C434.0 755.7 436.0 753.0 438.0 750.3C440.0 747.6 442.0 745.0 444.0 742.4C446.0 739.8 448.0 737.3 450.0 734.8C452.0 732.3 454.0 729.9 456.0 727.5C458.0 725.1 460.0 722.7 462.0 720.4C464.0 718.1 466.0 715.8 468.0 713.6C470.0 711.4 472.0 709.2 474.0 707.0C476.0 704.9 478.0 702.8 480.0 700.7C482.0 698.6 484.0 696.6 486.0 694.6C488.0 692.6 490.0 690.7 492.0 688.8C494.0 686.9 496.0 685.0 498.0 683.1C500.0 681.3 502.0 679.5 504.0 677.7C506.0 675.9 508.0 674.2 510.0 672.5C512.0 670.8 514.0 669.1 516.0 667.4C518.0 665.8 520.0 664.2 522.0 662.6C524.0 661.0 526.0 659.5 528.0 658.0C530.0 656.5 532.0 655.0 534.0 653.5C536.0 652.0 538.0 650.6 540.0 649.2C542.0 647.8 544.0 646.5 546.0 645.1C548.0 643.8 550.0 642.4 552.0 641.1C554.0 639.8 556.0 638.6 558.0 637.3C560.0 636.1 562.0 634.8 564.0 633.6C566.0 632.4 568.0 631.3 570.0 630.1C572.0 629.0 574.0 627.8 576.0 626.7C578.0 625.6 580.0 624.5 582.0 623.4C584.0 622.3 586.0 621.3 588.0 620.3C590.0 619.3 592.0 618.2 594.0 617.2C596.0 616.2 598.0 615.3 600.0 614.3C602.0 613.3 604.0 612.3 606.0 611.4C608.0 610.5 610.0 609.6 612.0 608.7C614.0 607.8 616.0 606.9 618.0 606.0C620.0 605.1 622.0 604.3 624.0 603.4C626.0 602.6 628.0 601.7 630.0 600.9C632.0 600.1 634.0 599.3 636.0 598.5C638.0 597.7 640.0 596.9 642.0 596.1C644.0 595.3 646.0 594.5 648.0 593.7C650.0 592.9 652.0 592.2 654.0 591.4C656.0 590.6 658.0 589.9 660.0 589.1C662.0 588.4 664.0 587.6 666.0 586.9C668.0 586.2 670.0 585.4 672.0 584.7C674.0 584.0 676.0 583.2 678.0 582.5C680.0 581.8 682.0 581.0 684.0 580.3C686.0 579.6 688.0 578.8 690.0 578.1C692.0 577.4 694.0 576.7 696.0 576.0C698.0 575.3 700.0 574.5 702.0 573.8C704.0 573.1 706.0 572.4 708.0 571.7C710.0 571.0 712.0 570.2 714.0 569.5C716.0 568.8 718.0 568.1 720.0 567.4C722.0 566.7 724.0 566.0 726.0 565.3C728.0 564.6 730.0 563.9 732.0 563.2C734.0 562.5 736.0 561.7 738.0 561.0C740.0 560.3 742.0 559.7 744.0 559.0C746.0 558.3 748.0 557.6 750.0 556.9C752.0 556.2 754.0 555.5 756.0 554.8C758.0 554.1 760.0 553.4 762.0 552.7C764.0 552.0 766.0 551.3 768.0 550.6C770.0 549.9 772.0 549.3 774.0 548.6C776.0 547.9 778.0 547.2 780.0 546.5C782.0 545.8 784.0 545.2 786.0 544.5C788.0 543.8 790.0 543.2 792.0 542.5C794.0 541.8 796.0 541.1 798.0 540.4C800.0 539.7 802.0 539.1 804.0 538.4C806.0 537.7 808.0 537.1 810.0 536.4C812.0 535.7 814.0 535.1 816.0 534.4C818.0 533.7 820.0 533.1 822.0 532.4C824.0 531.7 826.0 531.1 828.0 530.4C830.0 529.7 832.0 529.1 834.0 528.4C836.0 527.7 838.0 527.1 840.0 526.4C842.0 525.8 844.0 525.1 846.0 524.5C848.0 523.8 850.0 523.2 852.0 522.5C854.0 521.8 856.0 521.2 858.0 520.5C860.0 519.9 862.0 519.2 864.0 518.6C866.0 518.0 868.0 517.3 870.0 516.7C872.0 516.0 874.0 515.4 876.0 514.7C878.0 514.1 880.0 513.4 882.0 512.8C884.0 512.1 886.0 511.5 888.0 510.8C890.0 510.2 892.0 509.5 894.0 508.9C896.0 508.3 898.0 507.6 900.0 507.0C902.0 506.4 904.0 505.7 906.0 505.1C908.0 504.5 910.0 503.8 912.0 503.2C914.0 502.6 916.0 501.9 918.0 501.3C920.0 500.7 922.0 500.0 924.0 499.4C926.0 498.8 928.0 498.1 930.0 497.5C932.0 496.9 934.0 496.2 936.0 495.6C938.0 495.0 940.0 494.3 942.0 493.7C944.0 493.1 946.0 492.5 948.0 491.9C950.0 491.3 952.0 490.6 954.0 490.0C956.0 489.4 958.0 488.7 960.0 488.1C962.0 487.5 964.0 486.9 966.0 486.3C968.0 485.7 970.0 485.0 972.0 484.4C974.0 483.8 976.0 483.2 978.0 482.6C980.0 482.0 982.0 481.3 984.0 480.7C986.0 480.1 988.0 479.5 990.0 478.9C992.0 478.3 994.0 477.6 996.0 477.0C998.0 476.4 1000.0 475.8 1002.0 475.2C1004.0 474.6 1006.0 474.0 1008.0 473.4C1010.0 472.8 1012.0 472.1 1014.0 471.5C1016.0 470.9 1018.0 470.3 1020.0 469.7C1022.0 469.1 1024.0 468.5 1026.0 467.9C1028.0 467.3 1030.0 466.7 1032.0 466.1C1034.0 465.5 1036.0 464.9 1038.0 464.3C1040.0 463.7 1042.0 463.1 1044.0 462.5C1046.0 461.9 1048.0 461.3 1050.0 460.7C1052.0 460.1 1054.0 459.6 1056.0 459.0C1058.0 458.4 1060.0 457.8 1062.0 457.2C1064.0 456.6 1066.0 456.1 1068.0 455.5C1070.0 454.9 1072.0 454.4 1074.0 453.8C1076.0 453.2 1078.0 452.7 1080.0 452.1C1082.0 451.5 1084.0 451.0 1086.0 450.4C1088.0 449.8 1090.0 449.3 1092.0 448.7C1094.0 448.2 1096.0 447.6 1098.0 447.1C1100.0 446.5 1102.0 446.0 1104.0 445.4C1106.0 444.9 1108.0 444.3 1110.0 443.8C1112.0 443.3 1114.0 442.7 1116.0 442.2C1118.0 441.7 1120.0 441.2 1122.0 440.7C1124.0 440.2 1126.0 439.6 1128.0 439.1C1130.0 438.6 1132.0 438.1 1134.0 437.6C1136.0 437.1 1138.0 436.6 1140.0 436.1C1142.0 435.6 1144.0 435.1 1146.0 434.6C1148.0 434.1 1150.0 433.7 1152.0 433.2C1154.0 432.7 1156.0 432.3 1158.0 431.8C1160.0 431.3 1162.0 430.9 1164.0 430.4C1166.0 430.0 1168.0 429.5 1170.0 429.1C1172.0 428.7 1174.0 428.2 1176.0 427.8C1178.0 427.4 1180.0 426.9 1182.0 426.5C1184.0 426.1 1186.0 425.6 1188.0 425.2C1190.0 424.8 1192.0 424.4 1194.0 424.0C1196.0 423.6 1198.0 423.2 1200.0 422.8C1202.0 422.4 1204.0 422.1 1206.0 421.7C1208.0 421.3 1210.0 421.0 1212.0 420.6C1214.0 420.2 1216.0 419.9 1218.0 419.5C1220.0 419.2 1222.0 418.8 1224.0 418.5C1226.0 418.2 1228.0 417.8 1230.0 417.5C1232.0 417.2 1234.0 416.8 1236.0 416.5C1238.0 416.2 1240.0 415.9 1242.0 415.6C1244.0 415.3 1246.0 415.1 1248.0 414.8C1250.0 414.5 1252.0 414.3 1254.0 414.0C1256.0 413.7 1258.0 413.5 1260.0 413.2C1262.0 413.0 1264.0 412.7 1266.0 412.5C1268.0 412.3 1270.0 412.0 1272.0 411.8C1274.0 411.6 1276.0 411.4 1278.0 411.2C1280.0 411.0 1282.0 410.8 1284.0 410.6C1285.9 410.4 1287.4 410.0 1289.8 410.1C1293.6 410.2 1299.9 411.1 1304.8 412.3C1309.9 413.6 1314.3 415.8 1319.8 417.6C1326.5 419.8 1335.7 421.2 1342.2 424.3C1348.0 427.1 1353.0 430.6 1357.2 434.8C1361.5 439.1 1364.9 444.6 1367.7 449.8C1370.3 454.6 1371.9 459.7 1373.7 464.7C1375.4 469.7 1376.7 474.7 1378.2 479.7C1379.7 484.7 1381.2 489.7 1382.7 494.7C1384.2 499.7 1385.9 504.7 1387.2 509.7C1388.4 514.6 1389.0 519.7 1390.2 524.6C1391.4 529.6 1393.5 534.5 1394.6 539.6C1395.7 544.7 1395.9 549.4 1396.6 555.0C1397.5 561.8 1398.8 569.9 1399.6 577.4C1400.3 584.9 1400.8 591.1 1401.1 599.9C1401.6 612.3 1401.3 628.8 1401.4 644.8C1401.5 663.3 1401.7 686.2 1401.9 704.7C1402.0 720.8 1402.2 734.3 1402.3 749.7C1402.4 766.0 1402.4 782.6 1402.6 800.0C1402.8 818.7 1403.1 838.7 1403.3 858.1" stroke="#c8005a"/><path d="M221.5 1663.0C222.8 1654.9 223.8 1648.3 225.5 1638.8C227.9 1625.1 231.7 1604.6 234.7 1588.7C237.5 1574.2 240.5 1558.4 243.0 1547.0C244.7 1539.1 246.7 1535.1 247.7 1527.0C249.2 1514.7 247.8 1493.9 248.0 1480.0C248.1 1468.9 248.3 1462.3 248.5 1450.0C248.9 1430.6 249.0 1397.4 250.2 1374.7C251.2 1355.8 252.6 1339.2 254.6 1322.9C256.4 1308.3 258.9 1296.4 261.5 1281.4C264.6 1263.5 268.0 1242.5 271.9 1222.6C276.0 1202.0 280.5 1182.4 285.7 1160.0C291.8 1133.8 298.9 1100.4 306.4 1075.0C312.7 1053.8 319.5 1036.7 326.6 1017.6C333.7 998.3 343.9 973.1 349.0 959.9C351.6 953.1 353.0 949.4 355.0 944.3C357.0 939.3 359.0 934.3 361.0 929.4C363.0 924.6 365.0 919.9 367.0 915.2C369.0 910.7 371.0 906.2 373.0 901.8C375.0 897.5 377.0 893.1 379.0 888.9C381.0 884.8 383.0 880.7 385.0 876.7C387.0 872.8 389.0 869.0 391.0 865.2C393.0 861.5 395.0 857.7 397.0 854.1C399.0 850.6 401.0 847.1 403.0 843.7C405.0 840.3 407.0 837.0 409.0 833.8C411.0 830.6 413.0 827.5 415.0 824.4C417.0 821.4 419.0 818.3 421.0 815.4C423.0 812.5 425.0 809.8 427.0 807.0C429.0 804.3 431.0 801.5 433.0 798.9C435.0 796.3 437.0 793.8 439.0 791.3C441.0 788.8 443.0 786.4 445.0 784.0C447.0 781.7 449.0 779.4 451.0 777.1C453.0 774.9 455.0 772.7 457.0 770.5C459.0 768.4 461.0 766.3 463.0 764.2C465.0 762.1 467.0 760.1 469.0 758.1C471.0 756.1 473.0 754.2 475.0 752.3C477.0 750.4 479.0 748.6 481.0 746.8C483.0 745.0 485.0 743.2 487.0 741.4C489.0 739.6 491.0 737.9 493.0 736.2C495.0 734.5 497.0 732.8 499.0 731.2C501.0 729.6 503.0 728.0 505.0 726.4C507.0 724.8 509.0 723.3 511.0 721.8C513.0 720.3 515.0 718.8 517.0 717.3C519.0 715.8 521.0 714.3 523.0 712.9C525.0 711.5 527.0 710.2 529.0 708.8C531.0 707.5 533.0 706.1 535.0 704.8C537.0 703.5 539.0 702.2 541.0 700.9C543.0 699.6 545.0 698.4 547.0 697.2C549.0 696.0 551.0 694.8 553.0 693.6C555.0 692.4 557.0 691.2 559.0 690.1C561.0 689.0 563.0 687.9 565.0 686.8C567.0 685.7 569.0 684.7 571.0 683.6C573.0 682.6 575.0 681.5 577.0 680.5C579.0 679.5 581.0 678.6 583.0 677.6C585.0 676.6 587.0 675.7 589.0 674.7C591.0 673.8 593.0 672.8 595.0 671.9C597.0 671.0 599.0 670.2 601.0 669.3C603.0 668.4 605.0 667.6 607.0 666.7C609.0 665.9 611.0 665.0 613.0 664.2C615.0 663.4 617.0 662.7 619.0 661.9C621.0 661.1 623.0 660.4 625.0 659.6C627.0 658.8 629.0 658.0 631.0 657.3C633.0 656.6 635.0 655.9 637.0 655.2C639.0 654.5 641.0 653.8 643.0 653.1C645.0 652.4 647.0 651.7 649.0 651.0C651.0 650.3 653.0 649.7 655.0 649.1C657.0 648.5 659.0 647.8 661.0 647.2C663.0 646.6 665.0 645.9 667.0 645.3C669.0 644.7 671.0 644.0 673.0 643.4C675.0 642.8 677.0 642.3 679.0 641.7C681.0 641.1 683.0 640.5 685.0 639.9C687.0 639.3 689.0 638.8 691.0 638.2C693.0 637.6 695.0 637.0 697.0 636.4C699.0 635.8 701.0 635.3 703.0 634.8C705.0 634.2 707.0 633.7 709.0 633.1C711.0 632.5 713.0 632.0 715.0 631.4C717.0 630.8 719.0 630.3 721.0 629.7C723.0 629.2 725.0 628.6 727.0 628.1C729.0 627.5 731.0 627.0 733.0 626.4C735.0 625.9 737.0 625.3 739.0 624.8C741.0 624.2 743.0 623.7 745.0 623.1C747.0 622.5 749.0 622.0 751.0 621.4C753.0 620.9 755.0 620.3 757.0 619.8C759.0 619.2 761.0 618.7 763.0 618.1C765.0 617.6 767.0 617.0 769.0 616.5C771.0 615.9 773.0 615.4 775.0 614.8C777.0 614.3 779.0 613.7 781.0 613.2C783.0 612.6 785.0 612.1 787.0 611.5C789.0 611.0 791.0 610.4 793.0 609.9C795.0 609.3 797.0 608.8 799.0 608.2C801.0 607.7 803.0 607.1 805.0 606.6C807.0 606.0 809.0 605.5 811.0 604.9C813.0 604.4 815.0 603.8 817.0 603.3C819.0 602.8 821.0 602.2 823.0 601.7C825.0 601.1 827.0 600.6 829.0 600.0C831.0 599.5 833.0 598.9 835.0 598.4C837.0 597.9 839.0 597.3 841.0 596.8C843.0 596.3 845.0 595.7 847.0 595.2C849.0 594.7 851.0 594.1 853.0 593.6C855.0 593.1 857.0 592.5 859.0 592.0C861.0 591.5 863.0 590.9 865.0 590.4C867.0 589.9 869.0 589.3 871.0 588.8C873.0 588.3 875.0 587.7 877.0 587.2C879.0 586.7 881.0 586.1 883.0 585.6C885.0 585.1 887.0 584.6 889.0 584.1C891.0 583.6 893.0 583.0 895.0 582.5C897.0 582.0 899.0 581.4 901.0 580.9C903.0 580.4 905.0 579.9 907.0 579.4C909.0 578.9 911.0 578.4 913.0 577.9C915.0 577.4 917.0 576.8 919.0 576.3C921.0 575.8 923.0 575.3 925.0 574.8C927.0 574.3 929.0 573.8 931.0 573.3C933.0 572.8 935.0 572.3 937.0 571.8C939.0 571.3 941.0 570.7 943.0 570.2C945.0 569.7 947.0 569.3 949.0 568.8C951.0 568.3 953.0 567.8 955.0 567.3C957.0 566.8 959.0 566.3 961.0 565.8C963.0 565.3 965.0 564.8 967.0 564.3C969.0 563.8 971.0 563.4 973.0 562.9C975.0 562.4 977.0 561.9 979.0 561.4C981.0 560.9 983.0 560.5 985.0 560.0C987.0 559.5 989.0 559.0 991.0 558.5C993.0 558.0 995.0 557.6 997.0 557.1C999.0 556.6 1001.0 556.2 1003.0 555.7C1005.0 555.2 1007.0 554.8 1009.0 554.3C1011.0 553.8 1013.0 553.4 1015.0 552.9C1017.0 552.5 1019.0 552.0 1021.0 551.6C1023.0 551.1 1025.0 550.7 1027.0 550.2C1029.0 549.7 1031.0 549.3 1033.0 548.8C1035.0 548.4 1037.0 547.9 1039.0 547.5C1041.0 547.1 1043.0 546.6 1045.0 546.2C1047.0 545.8 1049.0 545.3 1051.0 544.9C1053.0 544.5 1055.0 544.0 1057.0 543.6C1059.0 543.2 1061.0 542.7 1063.0 542.3C1065.0 541.9 1067.0 541.4 1069.0 541.0C1071.0 540.6 1073.0 540.1 1075.0 539.7C1077.0 539.3 1079.0 538.9 1081.0 538.5C1083.0 538.1 1085.0 537.6 1087.0 537.2C1089.0 536.8 1091.0 536.4 1093.0 536.0C1095.0 535.6 1097.0 535.2 1099.0 534.8C1101.0 534.4 1103.0 534.0 1105.0 533.6C1107.0 533.2 1109.0 532.8 1111.0 532.4C1113.0 532.0 1115.0 531.7 1117.0 531.3C1119.0 530.9 1121.0 530.5 1123.0 530.1C1125.0 529.7 1127.0 529.4 1129.0 529.0C1131.0 528.6 1133.0 528.3 1135.0 527.9C1137.0 527.5 1139.0 527.2 1141.0 526.8C1143.0 526.4 1145.0 526.1 1147.0 525.7C1149.0 525.3 1151.0 525.0 1153.0 524.6C1155.0 524.3 1157.0 523.9 1159.0 523.6C1161.0 523.2 1163.0 522.9 1165.0 522.5C1167.0 522.2 1169.0 521.8 1171.0 521.5C1173.0 521.2 1175.0 520.8 1177.0 520.5C1179.0 520.2 1181.0 519.8 1183.0 519.5C1185.0 519.2 1187.0 518.9 1189.0 518.6C1191.0 518.3 1193.0 517.9 1195.0 517.6C1197.0 517.3 1199.0 517.0 1201.0 516.7C1203.0 516.4 1205.0 516.1 1207.0 515.8C1209.0 515.5 1211.0 515.2 1213.0 514.9C1215.0 514.6 1217.0 514.3 1219.0 514.0C1221.0 513.7 1223.0 513.4 1225.0 513.1C1227.0 512.8 1229.0 512.6 1231.0 512.3C1233.0 512.0 1235.0 511.8 1237.0 511.5C1239.0 511.2 1241.0 511.0 1243.0 510.7C1245.0 510.4 1247.0 510.2 1249.0 509.9C1251.0 509.7 1253.0 509.4 1255.0 509.2C1257.0 508.9 1259.0 508.7 1261.0 508.4C1263.0 508.2 1265.0 507.9 1267.0 507.7C1269.0 507.5 1271.0 507.2 1273.0 507.0C1275.0 506.8 1277.0 506.5 1279.0 506.3C1281.0 506.1 1283.0 505.9 1285.0 505.7C1287.0 505.5 1289.0 505.3 1291.0 505.1C1293.0 504.9 1295.0 504.6 1297.0 504.4C1299.0 504.2 1301.6 504.0 1303.0 503.9C1303.8 503.8 1303.8 503.7 1304.8 503.7C1308.7 503.7 1324.8 505.0 1334.7 506.7C1344.8 508.5 1355.6 511.0 1364.7 514.2C1372.9 517.1 1380.5 520.6 1387.2 524.6C1393.3 528.2 1400.0 531.7 1403.6 536.6C1406.8 541.0 1406.9 547.2 1408.6 552.0C1410.1 556.3 1411.7 559.6 1413.1 564.0C1414.8 569.3 1416.1 575.9 1417.6 581.9C1419.1 587.9 1420.4 593.9 1422.1 599.9C1423.9 605.9 1426.4 611.7 1428.1 617.9C1429.9 624.2 1431.3 630.1 1432.6 637.3C1434.2 646.2 1435.1 658.0 1436.3 667.3C1437.3 675.3 1438.6 681.8 1439.3 689.8C1440.1 699.0 1440.3 709.2 1440.8 719.7C1441.3 731.5 1441.8 744.3 1442.3 757.2C1442.8 771.0 1443.5 781.7 1443.8 800.0C1444.4 832.5 1443.9 890.3 1443.9 935.4" stroke="#7a0038"/></g>
<rect x="218" y="24" width="7" height="1647" fill="#000"/><rect x="2275" y="24" width="7" height="1673" fill="#000"/><rect x="208" y="24" width="2074" height="6" fill="#000"/><rect x="193" y="1665" width="2089" height="6" fill="#000"/><rect x="193" y="1665.0" width="26" height="6" fill="#000"/><rect x="193" y="1300.5" width="26" height="6" fill="#000"/><rect x="193" y="936.0" width="26" height="6" fill="#000"/><rect x="193" y="571.5" width="26" height="6" fill="#000"/><rect x="193" y="207.0" width="26" height="6" fill="#000"/><rect x="208" y="1482.8" width="11" height="6" fill="#000"/><rect x="208" y="1118.2" width="11" height="6" fill="#000"/><rect x="208" y="753.7" width="11" height="6" fill="#000"/><rect x="208" y="389.2" width="11" height="6" fill="#000"/><rect x="208" y="24.7" width="11" height="6" fill="#000"/><rect x="218.0" y="1668" width="7" height="29" fill="#000"/><rect x="475.1" y="1668" width="7" height="29" fill="#000"/><rect x="732.2" y="1668" width="7" height="29" fill="#000"/><rect x="989.4" y="1668" width="7" height="29" fill="#000"/><rect x="1246.5" y="1668" width="7" height="29" fill="#000"/><rect x="1503.6" y="1668" width="7" height="29" fill="#000"/><rect x="1760.8" y="1668" width="7" height="29" fill="#000"/><rect x="2017.9" y="1668" width="7" height="29" fill="#000"/><rect x="2275.0" y="1668" width="7" height="29" fill="#000"/><rect x="347.1" y="1668" width="6" height="14" fill="#000"/><rect x="604.2" y="1668" width="6" height="14" fill="#000"/><rect x="861.3" y="1668" width="6" height="14" fill="#000"/><rect x="1118.4" y="1668" width="6" height="14" fill="#000"/><rect x="1375.6" y="1668" width="6" height="14" fill="#000"/><rect x="1632.7" y="1668" width="6" height="14" fill="#000"/><rect x="1889.8" y="1668" width="6" height="14" fill="#000"/><rect x="2146.9" y="1668" width="6" height="14" fill="#000"/><g font-size="62.5"><text x="174" y="1687.0" text-anchor="end">0</text><text x="174" y="1322.5" text-anchor="end">5</text><text x="174" y="958.0" text-anchor="end">10</text><text x="174" y="593.5" text-anchor="end">15</text><text x="174" y="229.0" text-anchor="end">20</text><text x="221.5" y="1764" text-anchor="middle">0</text><text x="478.6" y="1764" text-anchor="middle">10</text><text x="735.8" y="1764" text-anchor="middle">20</text><text x="992.9" y="1764" text-anchor="middle">30</text><text x="1250.0" y="1764" text-anchor="middle">40</text><text x="1507.1" y="1764" text-anchor="middle">50</text><text x="1764.2" y="1764" text-anchor="middle">60</text><text x="2021.4" y="1764" text-anchor="middle">70</text><text x="2278.5" y="1764" text-anchor="middle">80</text></g><text x="1250" y="1885" font-size="80" letter-spacing="-2" text-anchor="middle">Strain [%]</text><text transform="translate(82,850.5) rotate(-90)" font-size="80" letter-spacing="-1.7" text-anchor="middle">Stress [MPa]</text><rect x="471" y="915.85" width="137" height="3.5" fill="#ff0000"/><text x="621.5" y="937.9" font-size="62" letter-spacing="-1.5">PELS</text><rect x="471" y="991.00" width="137" height="3.5" fill="#00dd00"/><text x="621.5" y="1013.0" font-size="62" letter-spacing="-1.5">2.5C20A</text><rect x="471" y="1066.15" width="137" height="3.5" fill="#008c00"/><text x="621.5" y="1088.2" font-size="62" letter-spacing="-1.5">5.0C20A</text><rect x="471" y="1141.30" width="137" height="3.5" fill="#005f00"/><text x="621.5" y="1163.3" font-size="62" letter-spacing="-1.5">7.0C20A</text><rect x="471" y="1216.45" width="137" height="3.5" fill="#f9c15a"/><text x="621.5" y="1238.5" font-size="62" letter-spacing="-1.5">5.0C20A+HNT</text><rect x="471" y="1291.60" width="137" height="3.5" fill="#b07400"/><text x="621.5" y="1313.6" font-size="62" letter-spacing="-1.5">7.0C20A+HNT</text><rect x="471" y="1366.75" width="137" height="3.5" fill="#ff80c8"/><text x="621.5" y="1388.8" font-size="62" letter-spacing="-1.5">2.5HNT</text><rect x="471" y="1441.90" width="137" height="3.5" fill="#c8005a"/><text x="621.5" y="1464.0" font-size="62" letter-spacing="-1.5">5.0HNT</text><rect x="471" y="1517.05" width="137" height="3.5" fill="#7a0038"/><text x="621.5" y="1539.1" font-size="62" letter-spacing="-1.5">7.0HNT</text>
</svg>
</body></html>
